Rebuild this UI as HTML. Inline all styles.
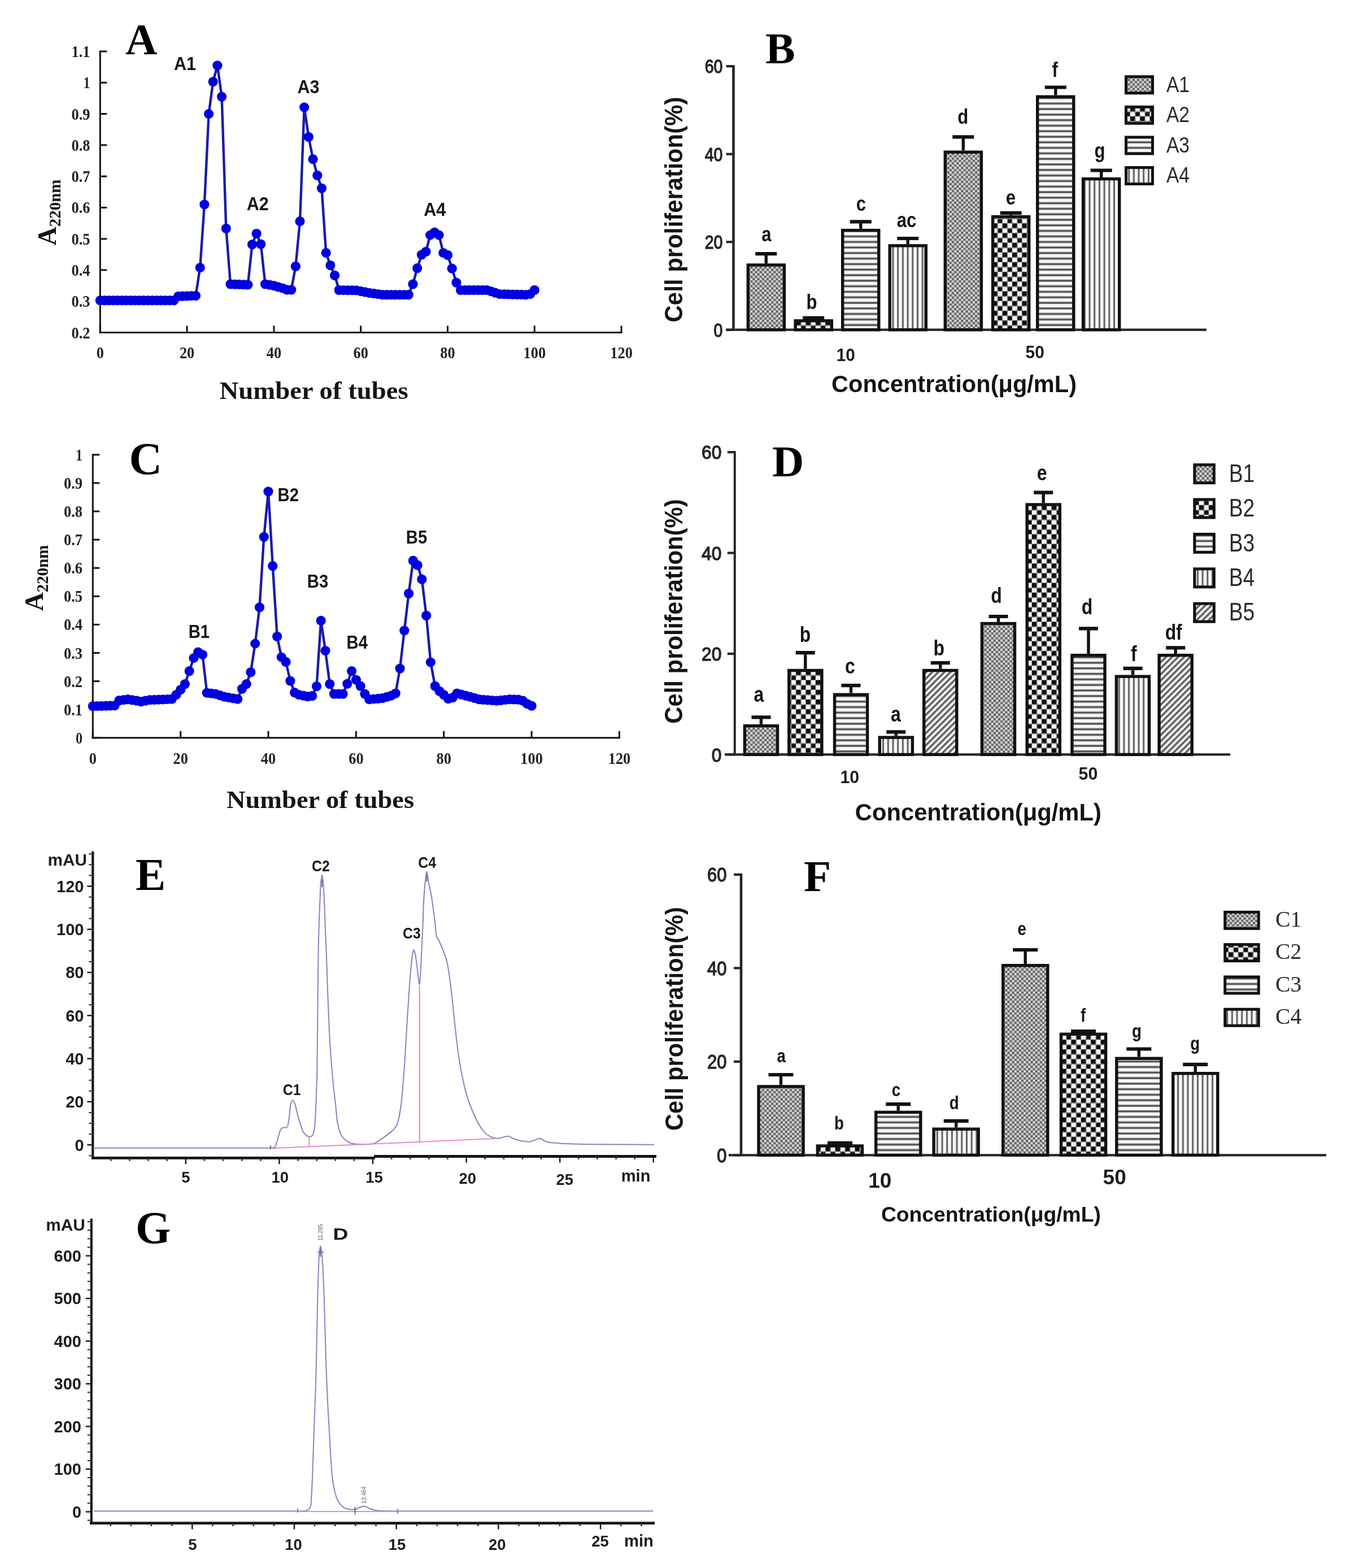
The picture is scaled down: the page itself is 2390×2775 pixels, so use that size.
<!DOCTYPE html>
<html><head><meta charset="utf-8"><title>Figure</title>
<style>html,body{margin:0;padding:0;background:#fff;}svg{display:block;}</style></head>
<body><svg width="2390" height="2775" viewBox="0 0 2390 2775">
<rect width="2390" height="2775" fill="#fff"/>

<defs>
<pattern id="pDot" patternUnits="userSpaceOnUse" width="8.2" height="8.2">
  <rect width="8.2" height="8.2" fill="#8e8e8e"/>
  <rect x="0" y="0" width="4.1" height="4.1" fill="#a8a8a8"/>
  <rect x="4.1" y="4.1" width="4.1" height="4.1" fill="#a8a8a8"/>
  <rect x="0.6" y="0.6" width="2.6" height="2.6" fill="#f2f2f2"/>
  <rect x="4.7" y="4.7" width="2.6" height="2.6" fill="#dcdcdc"/>
  <rect x="4.9" y="0.9" width="2.2" height="2.2" fill="#3c3c3c"/>
  <rect x="0.9" y="4.9" width="2.2" height="2.2" fill="#4a4a4a"/>
</pattern>
<pattern id="pChk" patternUnits="userSpaceOnUse" width="17.4" height="17.2">
  <rect width="17.4" height="17.2" fill="#f6f6f6"/>
  <rect x="0" y="0" width="8.7" height="8.6" fill="#0e0e0e"/>
  <rect x="8.7" y="8.6" width="8.7" height="8.6" fill="#0e0e0e"/>
  <rect x="0" y="7.6" width="17.4" height="1.8" fill="#8c8c8c"/>
  <rect x="0" y="16.2" width="17.4" height="1.8" fill="#8c8c8c"/>
  <rect x="7.9" y="0" width="1.6" height="17.2" fill="#8c8c8c" opacity="0.8"/>
  <rect x="16.6" y="0" width="1.6" height="17.2" fill="#8c8c8c" opacity="0.8"/>
</pattern>
<pattern id="pHor" patternUnits="userSpaceOnUse" width="10" height="9.8">
  <rect width="10" height="9.8" fill="#f8f8f8"/>
  <rect x="0" y="4.6" width="10" height="4.4" fill="#8c8c8c"/>
  <rect x="0" y="5.9" width="10" height="1.8" fill="#444"/>
</pattern>
<pattern id="pVer" patternUnits="userSpaceOnUse" width="8.7" height="10">
  <rect width="8.7" height="10" fill="#f8f8f8"/>
  <rect x="4.6" y="0" width="3.4" height="10" fill="#8e8e8e"/>
  <rect x="5.5" y="0" width="1.5" height="10" fill="#4a4a4a"/>
</pattern>
<pattern id="pDia" patternUnits="userSpaceOnUse" width="7.6" height="7.6" patternTransform="rotate(-45)">
  <rect width="7.6" height="7.6" fill="#f0f0f0"/>
  <rect x="0" y="0" width="7.6" height="3.4" fill="#5e5e5e"/>
</pattern>
</defs>

<line x1="177.3" y1="89.5" x2="177.3" y2="590" stroke="#111" stroke-width="3"/>
<line x1="175.8" y1="588.5" x2="1101.6" y2="588.5" stroke="#111" stroke-width="3"/>
<line x1="177.3" y1="588.5" x2="189.3" y2="588.5" stroke="#111" stroke-width="3"/>
<text x="159.5" y="598.5" font-family="&quot;Liberation Serif&quot;,&quot;Times New Roman&quot;,serif" font-size="30" font-weight="bold" text-anchor="end" fill="#222" textLength="33" lengthAdjust="spacingAndGlyphs">0.2</text>
<line x1="177.3" y1="533.2" x2="189.3" y2="533.2" stroke="#111" stroke-width="3"/>
<text x="159.5" y="543.2" font-family="&quot;Liberation Serif&quot;,&quot;Times New Roman&quot;,serif" font-size="30" font-weight="bold" text-anchor="end" fill="#222" textLength="33" lengthAdjust="spacingAndGlyphs">0.3</text>
<line x1="177.3" y1="477.9" x2="189.3" y2="477.9" stroke="#111" stroke-width="3"/>
<text x="159.5" y="487.9" font-family="&quot;Liberation Serif&quot;,&quot;Times New Roman&quot;,serif" font-size="30" font-weight="bold" text-anchor="end" fill="#222" textLength="33" lengthAdjust="spacingAndGlyphs">0.4</text>
<line x1="177.3" y1="422.7" x2="189.3" y2="422.7" stroke="#111" stroke-width="3"/>
<text x="159.5" y="432.7" font-family="&quot;Liberation Serif&quot;,&quot;Times New Roman&quot;,serif" font-size="30" font-weight="bold" text-anchor="end" fill="#222" textLength="33" lengthAdjust="spacingAndGlyphs">0.5</text>
<line x1="177.3" y1="367.4" x2="189.3" y2="367.4" stroke="#111" stroke-width="3"/>
<text x="159.5" y="377.4" font-family="&quot;Liberation Serif&quot;,&quot;Times New Roman&quot;,serif" font-size="30" font-weight="bold" text-anchor="end" fill="#222" textLength="33" lengthAdjust="spacingAndGlyphs">0.6</text>
<line x1="177.3" y1="312.1" x2="189.3" y2="312.1" stroke="#111" stroke-width="3"/>
<text x="159.5" y="322.1" font-family="&quot;Liberation Serif&quot;,&quot;Times New Roman&quot;,serif" font-size="30" font-weight="bold" text-anchor="end" fill="#222" textLength="33" lengthAdjust="spacingAndGlyphs">0.7</text>
<line x1="177.3" y1="256.8" x2="189.3" y2="256.8" stroke="#111" stroke-width="3"/>
<text x="159.5" y="266.8" font-family="&quot;Liberation Serif&quot;,&quot;Times New Roman&quot;,serif" font-size="30" font-weight="bold" text-anchor="end" fill="#222" textLength="33" lengthAdjust="spacingAndGlyphs">0.8</text>
<line x1="177.3" y1="201.5" x2="189.3" y2="201.5" stroke="#111" stroke-width="3"/>
<text x="159.5" y="211.5" font-family="&quot;Liberation Serif&quot;,&quot;Times New Roman&quot;,serif" font-size="30" font-weight="bold" text-anchor="end" fill="#222" textLength="33" lengthAdjust="spacingAndGlyphs">0.9</text>
<line x1="177.3" y1="146.3" x2="189.3" y2="146.3" stroke="#111" stroke-width="3"/>
<text x="159.5" y="156.3" font-family="&quot;Liberation Serif&quot;,&quot;Times New Roman&quot;,serif" font-size="30" font-weight="bold" text-anchor="end" fill="#222" textLength="12" lengthAdjust="spacingAndGlyphs">1</text>
<line x1="177.3" y1="91" x2="189.3" y2="91" stroke="#111" stroke-width="3"/>
<text x="159.5" y="101" font-family="&quot;Liberation Serif&quot;,&quot;Times New Roman&quot;,serif" font-size="30" font-weight="bold" text-anchor="end" fill="#222" textLength="33" lengthAdjust="spacingAndGlyphs">1.1</text>
<line x1="177.3" y1="588.5" x2="177.3" y2="576.5" stroke="#111" stroke-width="3"/>
<text x="177.3" y="634" font-family="&quot;Liberation Serif&quot;,&quot;Times New Roman&quot;,serif" font-size="30" font-weight="bold" text-anchor="middle" fill="#222" textLength="13.2" lengthAdjust="spacingAndGlyphs">0</text>
<line x1="331.1" y1="588.5" x2="331.1" y2="576.5" stroke="#111" stroke-width="3"/>
<text x="331.1" y="634" font-family="&quot;Liberation Serif&quot;,&quot;Times New Roman&quot;,serif" font-size="30" font-weight="bold" text-anchor="middle" fill="#222" textLength="26.4" lengthAdjust="spacingAndGlyphs">20</text>
<line x1="484.9" y1="588.5" x2="484.9" y2="576.5" stroke="#111" stroke-width="3"/>
<text x="484.9" y="634" font-family="&quot;Liberation Serif&quot;,&quot;Times New Roman&quot;,serif" font-size="30" font-weight="bold" text-anchor="middle" fill="#222" textLength="26.4" lengthAdjust="spacingAndGlyphs">40</text>
<line x1="638.7" y1="588.5" x2="638.7" y2="576.5" stroke="#111" stroke-width="3"/>
<text x="638.7" y="634" font-family="&quot;Liberation Serif&quot;,&quot;Times New Roman&quot;,serif" font-size="30" font-weight="bold" text-anchor="middle" fill="#222" textLength="26.4" lengthAdjust="spacingAndGlyphs">60</text>
<line x1="792.5" y1="588.5" x2="792.5" y2="576.5" stroke="#111" stroke-width="3"/>
<text x="792.5" y="634" font-family="&quot;Liberation Serif&quot;,&quot;Times New Roman&quot;,serif" font-size="30" font-weight="bold" text-anchor="middle" fill="#222" textLength="26.4" lengthAdjust="spacingAndGlyphs">80</text>
<line x1="946.3" y1="588.5" x2="946.3" y2="576.5" stroke="#111" stroke-width="3"/>
<text x="946.3" y="634" font-family="&quot;Liberation Serif&quot;,&quot;Times New Roman&quot;,serif" font-size="30" font-weight="bold" text-anchor="middle" fill="#222" textLength="39.6" lengthAdjust="spacingAndGlyphs">100</text>
<line x1="1100.1" y1="588.5" x2="1100.1" y2="576.5" stroke="#111" stroke-width="3"/>
<text x="1100.1" y="634" font-family="&quot;Liberation Serif&quot;,&quot;Times New Roman&quot;,serif" font-size="30" font-weight="bold" text-anchor="middle" fill="#222" textLength="39.6" lengthAdjust="spacingAndGlyphs">120</text>
<path d="M177.3 531.6 L185 531.6 L192.7 531.6 L200.4 531.6 L208.1 531.6 L215.8 531.6 L223.4 531.6 L231.1 531.6 L238.8 531.6 L246.5 531.6 L254.2 531.6 L261.9 531.6 L269.6 531.6 L277.3 531.6 L285 531.6 L292.7 531.6 L300.3 531.6 L308 531.6 L315.7 524.4 L323.4 524.1 L331.1 523.8 L338.8 523.5 L346.5 523.3 L354.2 473.5 L361.9 361.9 L369.6 201.5 L377.2 144.6 L384.9 115.9 L392.6 171.1 L400.3 404.4 L408 502.8 L415.7 503.1 L423.4 503.4 L431.1 503.6 L438.8 503.9 L446.5 432.6 L454.1 413.3 L461.8 432.1 L469.5 502.8 L477.2 504.2 L484.9 505.6 L492.6 507.8 L500.3 510 L508 512.8 L515.7 512.8 L523.4 471.3 L531 391.7 L538.7 189.9 L546.4 242.4 L554.1 281.7 L561.8 310.4 L569.5 333.1 L577.2 447.5 L584.9 469.6 L592.6 487.3 L600.2 513.3 L607.9 513.5 L615.6 513.6 L623.3 513.7 L631 513.9 L638.7 515.3 L646.4 516.8 L654.1 518.3 L661.8 519.4 L669.5 520.5 L677.2 521.6 L684.8 521.6 L692.5 521.6 L700.2 521.6 L707.9 521.6 L715.6 521.6 L723.3 521.6 L731 502.8 L738.7 474.6 L746.4 450.9 L754 445.3 L761.7 416 L769.4 411.1 L777.1 416 L784.8 447.5 L792.5 451.4 L800.2 475.2 L807.9 500.1 L815.6 513.3 L823.3 513.3 L831 513.3 L838.6 513.3 L846.3 513.3 L854 513.3 L861.7 513.3 L869.4 515.7 L877.1 518.1 L884.8 520.5 L892.5 520.7 L900.2 520.9 L907.9 521.1 L915.5 521.2 L923.2 521.4 L930.9 521.6 L938.6 520.5 L946.3 513.3" stroke="#1c1aa8" stroke-width="4.4" fill="none" stroke-linejoin="round"/>
<g fill="#0000e0">
<circle cx="177.3" cy="531.6" r="8.6"/>
<circle cx="185" cy="531.6" r="8.6"/>
<circle cx="192.7" cy="531.6" r="8.6"/>
<circle cx="200.4" cy="531.6" r="8.6"/>
<circle cx="208.1" cy="531.6" r="8.6"/>
<circle cx="215.8" cy="531.6" r="8.6"/>
<circle cx="223.4" cy="531.6" r="8.6"/>
<circle cx="231.1" cy="531.6" r="8.6"/>
<circle cx="238.8" cy="531.6" r="8.6"/>
<circle cx="246.5" cy="531.6" r="8.6"/>
<circle cx="254.2" cy="531.6" r="8.6"/>
<circle cx="261.9" cy="531.6" r="8.6"/>
<circle cx="269.6" cy="531.6" r="8.6"/>
<circle cx="277.3" cy="531.6" r="8.6"/>
<circle cx="285" cy="531.6" r="8.6"/>
<circle cx="292.7" cy="531.6" r="8.6"/>
<circle cx="300.3" cy="531.6" r="8.6"/>
<circle cx="308" cy="531.6" r="8.6"/>
<circle cx="315.7" cy="524.4" r="8.6"/>
<circle cx="323.4" cy="524.1" r="8.6"/>
<circle cx="331.1" cy="523.8" r="8.6"/>
<circle cx="338.8" cy="523.5" r="8.6"/>
<circle cx="346.5" cy="523.3" r="8.6"/>
<circle cx="354.2" cy="473.5" r="8.6"/>
<circle cx="361.9" cy="361.9" r="8.6"/>
<circle cx="369.6" cy="201.5" r="8.6"/>
<circle cx="377.2" cy="144.6" r="8.6"/>
<circle cx="384.9" cy="115.9" r="8.6"/>
<circle cx="392.6" cy="171.1" r="8.6"/>
<circle cx="400.3" cy="404.4" r="8.6"/>
<circle cx="408" cy="502.8" r="8.6"/>
<circle cx="415.7" cy="503.1" r="8.6"/>
<circle cx="423.4" cy="503.4" r="8.6"/>
<circle cx="431.1" cy="503.6" r="8.6"/>
<circle cx="438.8" cy="503.9" r="8.6"/>
<circle cx="446.5" cy="432.6" r="8.6"/>
<circle cx="454.1" cy="413.3" r="8.6"/>
<circle cx="461.8" cy="432.1" r="8.6"/>
<circle cx="469.5" cy="502.8" r="8.6"/>
<circle cx="477.2" cy="504.2" r="8.6"/>
<circle cx="484.9" cy="505.6" r="8.6"/>
<circle cx="492.6" cy="507.8" r="8.6"/>
<circle cx="500.3" cy="510" r="8.6"/>
<circle cx="508" cy="512.8" r="8.6"/>
<circle cx="515.7" cy="512.8" r="8.6"/>
<circle cx="523.4" cy="471.3" r="8.6"/>
<circle cx="531" cy="391.7" r="8.6"/>
<circle cx="538.7" cy="189.9" r="8.6"/>
<circle cx="546.4" cy="242.4" r="8.6"/>
<circle cx="554.1" cy="281.7" r="8.6"/>
<circle cx="561.8" cy="310.4" r="8.6"/>
<circle cx="569.5" cy="333.1" r="8.6"/>
<circle cx="577.2" cy="447.5" r="8.6"/>
<circle cx="584.9" cy="469.6" r="8.6"/>
<circle cx="592.6" cy="487.3" r="8.6"/>
<circle cx="600.2" cy="513.3" r="8.6"/>
<circle cx="607.9" cy="513.5" r="8.6"/>
<circle cx="615.6" cy="513.6" r="8.6"/>
<circle cx="623.3" cy="513.7" r="8.6"/>
<circle cx="631" cy="513.9" r="8.6"/>
<circle cx="638.7" cy="515.3" r="8.6"/>
<circle cx="646.4" cy="516.8" r="8.6"/>
<circle cx="654.1" cy="518.3" r="8.6"/>
<circle cx="661.8" cy="519.4" r="8.6"/>
<circle cx="669.5" cy="520.5" r="8.6"/>
<circle cx="677.2" cy="521.6" r="8.6"/>
<circle cx="684.8" cy="521.6" r="8.6"/>
<circle cx="692.5" cy="521.6" r="8.6"/>
<circle cx="700.2" cy="521.6" r="8.6"/>
<circle cx="707.9" cy="521.6" r="8.6"/>
<circle cx="715.6" cy="521.6" r="8.6"/>
<circle cx="723.3" cy="521.6" r="8.6"/>
<circle cx="731" cy="502.8" r="8.6"/>
<circle cx="738.7" cy="474.6" r="8.6"/>
<circle cx="746.4" cy="450.9" r="8.6"/>
<circle cx="754" cy="445.3" r="8.6"/>
<circle cx="761.7" cy="416" r="8.6"/>
<circle cx="769.4" cy="411.1" r="8.6"/>
<circle cx="777.1" cy="416" r="8.6"/>
<circle cx="784.8" cy="447.5" r="8.6"/>
<circle cx="792.5" cy="451.4" r="8.6"/>
<circle cx="800.2" cy="475.2" r="8.6"/>
<circle cx="807.9" cy="500.1" r="8.6"/>
<circle cx="815.6" cy="513.3" r="8.6"/>
<circle cx="823.3" cy="513.3" r="8.6"/>
<circle cx="831" cy="513.3" r="8.6"/>
<circle cx="838.6" cy="513.3" r="8.6"/>
<circle cx="846.3" cy="513.3" r="8.6"/>
<circle cx="854" cy="513.3" r="8.6"/>
<circle cx="861.7" cy="513.3" r="8.6"/>
<circle cx="869.4" cy="515.7" r="8.6"/>
<circle cx="877.1" cy="518.1" r="8.6"/>
<circle cx="884.8" cy="520.5" r="8.6"/>
<circle cx="892.5" cy="520.7" r="8.6"/>
<circle cx="900.2" cy="520.9" r="8.6"/>
<circle cx="907.9" cy="521.1" r="8.6"/>
<circle cx="915.5" cy="521.2" r="8.6"/>
<circle cx="923.2" cy="521.4" r="8.6"/>
<circle cx="930.9" cy="521.6" r="8.6"/>
<circle cx="938.6" cy="520.5" r="8.6"/>
<circle cx="946.3" cy="513.3" r="8.6"/>
</g>
<text x="222" y="96" font-family="&quot;Liberation Serif&quot;,&quot;Times New Roman&quot;,serif" font-size="78" font-weight="bold" text-anchor="start" fill="#000">A</text>
<text x="327.5" y="123.7" font-family="&quot;Liberation Sans&quot;,Arial,sans-serif" font-size="34" font-weight="bold" text-anchor="middle" fill="#151515" textLength="39.1" lengthAdjust="spacingAndGlyphs">A1</text>
<text x="456.3" y="372.4" font-family="&quot;Liberation Sans&quot;,Arial,sans-serif" font-size="34" font-weight="bold" text-anchor="middle" fill="#151515" textLength="39.1" lengthAdjust="spacingAndGlyphs">A2</text>
<text x="546" y="165.2" font-family="&quot;Liberation Sans&quot;,Arial,sans-serif" font-size="34" font-weight="bold" text-anchor="middle" fill="#151515" textLength="39.1" lengthAdjust="spacingAndGlyphs">A3</text>
<text x="769.7" y="382" font-family="&quot;Liberation Sans&quot;,Arial,sans-serif" font-size="34" font-weight="bold" text-anchor="middle" fill="#151515" textLength="39.1" lengthAdjust="spacingAndGlyphs">A4</text>
<text x="555.6" y="706" font-family="&quot;Liberation Serif&quot;,&quot;Times New Roman&quot;,serif" font-size="45" font-weight="bold" text-anchor="middle" fill="#151515" textLength="334" lengthAdjust="spacingAndGlyphs">Number of tubes</text>
<text x="0" y="0" transform="translate(98.7 434.5) rotate(-90)" font-family="&quot;Liberation Serif&quot;,&quot;Times New Roman&quot;,serif" font-weight="bold" fill="#151515"><tspan font-size="46">A</tspan><tspan font-size="29" dy="8.5">220nm</tspan></text>
<line x1="164.3" y1="803.3" x2="164.3" y2="1307.3" stroke="#111" stroke-width="3"/>
<line x1="162.8" y1="1305.8" x2="1098" y2="1305.8" stroke="#111" stroke-width="3"/>
<line x1="164.3" y1="1305.8" x2="176.3" y2="1305.8" stroke="#111" stroke-width="3"/>
<text x="146" y="1315.8" font-family="&quot;Liberation Serif&quot;,&quot;Times New Roman&quot;,serif" font-size="30" font-weight="bold" text-anchor="end" fill="#222" textLength="12" lengthAdjust="spacingAndGlyphs">0</text>
<line x1="164.3" y1="1255.7" x2="176.3" y2="1255.7" stroke="#111" stroke-width="3"/>
<text x="146" y="1265.7" font-family="&quot;Liberation Serif&quot;,&quot;Times New Roman&quot;,serif" font-size="30" font-weight="bold" text-anchor="end" fill="#222" textLength="33" lengthAdjust="spacingAndGlyphs">0.1</text>
<line x1="164.3" y1="1205.6" x2="176.3" y2="1205.6" stroke="#111" stroke-width="3"/>
<text x="146" y="1215.6" font-family="&quot;Liberation Serif&quot;,&quot;Times New Roman&quot;,serif" font-size="30" font-weight="bold" text-anchor="end" fill="#222" textLength="33" lengthAdjust="spacingAndGlyphs">0.2</text>
<line x1="164.3" y1="1155.5" x2="176.3" y2="1155.5" stroke="#111" stroke-width="3"/>
<text x="146" y="1165.5" font-family="&quot;Liberation Serif&quot;,&quot;Times New Roman&quot;,serif" font-size="30" font-weight="bold" text-anchor="end" fill="#222" textLength="33" lengthAdjust="spacingAndGlyphs">0.3</text>
<line x1="164.3" y1="1105.4" x2="176.3" y2="1105.4" stroke="#111" stroke-width="3"/>
<text x="146" y="1115.4" font-family="&quot;Liberation Serif&quot;,&quot;Times New Roman&quot;,serif" font-size="30" font-weight="bold" text-anchor="end" fill="#222" textLength="33" lengthAdjust="spacingAndGlyphs">0.4</text>
<line x1="164.3" y1="1055.3" x2="176.3" y2="1055.3" stroke="#111" stroke-width="3"/>
<text x="146" y="1065.3" font-family="&quot;Liberation Serif&quot;,&quot;Times New Roman&quot;,serif" font-size="30" font-weight="bold" text-anchor="end" fill="#222" textLength="33" lengthAdjust="spacingAndGlyphs">0.5</text>
<line x1="164.3" y1="1005.2" x2="176.3" y2="1005.2" stroke="#111" stroke-width="3"/>
<text x="146" y="1015.2" font-family="&quot;Liberation Serif&quot;,&quot;Times New Roman&quot;,serif" font-size="30" font-weight="bold" text-anchor="end" fill="#222" textLength="33" lengthAdjust="spacingAndGlyphs">0.6</text>
<line x1="164.3" y1="955.1" x2="176.3" y2="955.1" stroke="#111" stroke-width="3"/>
<text x="146" y="965.1" font-family="&quot;Liberation Serif&quot;,&quot;Times New Roman&quot;,serif" font-size="30" font-weight="bold" text-anchor="end" fill="#222" textLength="33" lengthAdjust="spacingAndGlyphs">0.7</text>
<line x1="164.3" y1="905" x2="176.3" y2="905" stroke="#111" stroke-width="3"/>
<text x="146" y="915" font-family="&quot;Liberation Serif&quot;,&quot;Times New Roman&quot;,serif" font-size="30" font-weight="bold" text-anchor="end" fill="#222" textLength="33" lengthAdjust="spacingAndGlyphs">0.8</text>
<line x1="164.3" y1="854.9" x2="176.3" y2="854.9" stroke="#111" stroke-width="3"/>
<text x="146" y="864.9" font-family="&quot;Liberation Serif&quot;,&quot;Times New Roman&quot;,serif" font-size="30" font-weight="bold" text-anchor="end" fill="#222" textLength="33" lengthAdjust="spacingAndGlyphs">0.9</text>
<line x1="164.3" y1="804.8" x2="176.3" y2="804.8" stroke="#111" stroke-width="3"/>
<text x="146" y="814.8" font-family="&quot;Liberation Serif&quot;,&quot;Times New Roman&quot;,serif" font-size="30" font-weight="bold" text-anchor="end" fill="#222" textLength="12" lengthAdjust="spacingAndGlyphs">1</text>
<line x1="164.3" y1="1305.8" x2="164.3" y2="1293.8" stroke="#111" stroke-width="3"/>
<text x="164.3" y="1352" font-family="&quot;Liberation Serif&quot;,&quot;Times New Roman&quot;,serif" font-size="30" font-weight="bold" text-anchor="middle" fill="#222" textLength="13.2" lengthAdjust="spacingAndGlyphs">0</text>
<line x1="319.7" y1="1305.8" x2="319.7" y2="1293.8" stroke="#111" stroke-width="3"/>
<text x="319.7" y="1352" font-family="&quot;Liberation Serif&quot;,&quot;Times New Roman&quot;,serif" font-size="30" font-weight="bold" text-anchor="middle" fill="#222" textLength="26.4" lengthAdjust="spacingAndGlyphs">20</text>
<line x1="475" y1="1305.8" x2="475" y2="1293.8" stroke="#111" stroke-width="3"/>
<text x="475" y="1352" font-family="&quot;Liberation Serif&quot;,&quot;Times New Roman&quot;,serif" font-size="30" font-weight="bold" text-anchor="middle" fill="#222" textLength="26.4" lengthAdjust="spacingAndGlyphs">40</text>
<line x1="630.4" y1="1305.8" x2="630.4" y2="1293.8" stroke="#111" stroke-width="3"/>
<text x="630.4" y="1352" font-family="&quot;Liberation Serif&quot;,&quot;Times New Roman&quot;,serif" font-size="30" font-weight="bold" text-anchor="middle" fill="#222" textLength="26.4" lengthAdjust="spacingAndGlyphs">60</text>
<line x1="785.7" y1="1305.8" x2="785.7" y2="1293.8" stroke="#111" stroke-width="3"/>
<text x="785.7" y="1352" font-family="&quot;Liberation Serif&quot;,&quot;Times New Roman&quot;,serif" font-size="30" font-weight="bold" text-anchor="middle" fill="#222" textLength="26.4" lengthAdjust="spacingAndGlyphs">80</text>
<line x1="941.1" y1="1305.8" x2="941.1" y2="1293.8" stroke="#111" stroke-width="3"/>
<text x="941.1" y="1352" font-family="&quot;Liberation Serif&quot;,&quot;Times New Roman&quot;,serif" font-size="30" font-weight="bold" text-anchor="middle" fill="#222" textLength="39.6" lengthAdjust="spacingAndGlyphs">100</text>
<line x1="1096.5" y1="1305.8" x2="1096.5" y2="1293.8" stroke="#111" stroke-width="3"/>
<text x="1096.5" y="1352" font-family="&quot;Liberation Serif&quot;,&quot;Times New Roman&quot;,serif" font-size="30" font-weight="bold" text-anchor="middle" fill="#222" textLength="39.6" lengthAdjust="spacingAndGlyphs">120</text>
<path d="M164.3 1249.7 L172.1 1249.5 L179.8 1249.3 L187.6 1249.1 L195.4 1248.9 L203.1 1248.7 L210.9 1239.7 L218.7 1238.7 L226.4 1237.7 L234.2 1238.9 L242 1240.2 L249.7 1241.7 L257.5 1240.2 L265.3 1238.7 L273.1 1238.4 L280.8 1238.1 L288.6 1237.8 L296.4 1237.5 L304.1 1237.2 L311.9 1229.6 L319.7 1220.6 L327.4 1210.6 L335.2 1187.6 L343 1164.5 L350.7 1154 L358.5 1158.5 L366.3 1226.1 L374 1227.1 L381.8 1228.1 L389.6 1230.6 L397.3 1233.2 L405.1 1234.5 L412.9 1235.8 L420.6 1237.2 L428.4 1219.1 L436.2 1210.6 L443.9 1189.6 L451.7 1139 L459.5 1074.8 L467.3 950.1 L475 869.9 L482.8 1001.7 L490.6 1126.4 L498.3 1163 L506.1 1171.5 L513.9 1205.1 L521.6 1225.6 L529.4 1229.6 L537.2 1231.2 L544.9 1232.7 L552.7 1231.7 L560.5 1214.6 L568.2 1098.4 L576 1151.5 L583.8 1210.6 L591.5 1228.1 L599.3 1228.1 L607.1 1228.1 L614.8 1210.1 L622.6 1187.6 L630.4 1203.1 L638.1 1214.1 L645.9 1228.1 L653.7 1237.7 L661.5 1237 L669.2 1236.3 L677 1235.7 L684.8 1233.4 L692.5 1231.2 L700.3 1227.1 L708.1 1183.1 L715.8 1115.9 L723.6 1050.3 L731.4 992.2 L739.1 1000.2 L746.9 1025.2 L754.7 1089.4 L762.4 1172 L770.2 1214.1 L778 1223.1 L785.7 1229.6 L793.5 1236.7 L801.3 1234.7 L809 1227.1 L816.8 1229.1 L824.6 1231.2 L832.3 1233.2 L840.1 1235.4 L847.9 1237.7 L855.7 1238.3 L863.4 1238.9 L871.2 1239.5 L879 1240.2 L886.7 1239.3 L894.5 1238.5 L902.3 1237.7 L910 1237.9 L917.8 1238.2 L925.6 1240.2 L933.3 1245.7 L941.1 1249.2" stroke="#1c1aa8" stroke-width="4.4" fill="none" stroke-linejoin="round"/>
<g fill="#0000e0">
<circle cx="164.3" cy="1249.7" r="8.6"/>
<circle cx="172.1" cy="1249.5" r="8.6"/>
<circle cx="179.8" cy="1249.3" r="8.6"/>
<circle cx="187.6" cy="1249.1" r="8.6"/>
<circle cx="195.4" cy="1248.9" r="8.6"/>
<circle cx="203.1" cy="1248.7" r="8.6"/>
<circle cx="210.9" cy="1239.7" r="8.6"/>
<circle cx="218.7" cy="1238.7" r="8.6"/>
<circle cx="226.4" cy="1237.7" r="8.6"/>
<circle cx="234.2" cy="1238.9" r="8.6"/>
<circle cx="242" cy="1240.2" r="8.6"/>
<circle cx="249.7" cy="1241.7" r="8.6"/>
<circle cx="257.5" cy="1240.2" r="8.6"/>
<circle cx="265.3" cy="1238.7" r="8.6"/>
<circle cx="273.1" cy="1238.4" r="8.6"/>
<circle cx="280.8" cy="1238.1" r="8.6"/>
<circle cx="288.6" cy="1237.8" r="8.6"/>
<circle cx="296.4" cy="1237.5" r="8.6"/>
<circle cx="304.1" cy="1237.2" r="8.6"/>
<circle cx="311.9" cy="1229.6" r="8.6"/>
<circle cx="319.7" cy="1220.6" r="8.6"/>
<circle cx="327.4" cy="1210.6" r="8.6"/>
<circle cx="335.2" cy="1187.6" r="8.6"/>
<circle cx="343" cy="1164.5" r="8.6"/>
<circle cx="350.7" cy="1154" r="8.6"/>
<circle cx="358.5" cy="1158.5" r="8.6"/>
<circle cx="366.3" cy="1226.1" r="8.6"/>
<circle cx="374" cy="1227.1" r="8.6"/>
<circle cx="381.8" cy="1228.1" r="8.6"/>
<circle cx="389.6" cy="1230.6" r="8.6"/>
<circle cx="397.3" cy="1233.2" r="8.6"/>
<circle cx="405.1" cy="1234.5" r="8.6"/>
<circle cx="412.9" cy="1235.8" r="8.6"/>
<circle cx="420.6" cy="1237.2" r="8.6"/>
<circle cx="428.4" cy="1219.1" r="8.6"/>
<circle cx="436.2" cy="1210.6" r="8.6"/>
<circle cx="443.9" cy="1189.6" r="8.6"/>
<circle cx="451.7" cy="1139" r="8.6"/>
<circle cx="459.5" cy="1074.8" r="8.6"/>
<circle cx="467.3" cy="950.1" r="8.6"/>
<circle cx="475" cy="869.9" r="8.6"/>
<circle cx="482.8" cy="1001.7" r="8.6"/>
<circle cx="490.6" cy="1126.4" r="8.6"/>
<circle cx="498.3" cy="1163" r="8.6"/>
<circle cx="506.1" cy="1171.5" r="8.6"/>
<circle cx="513.9" cy="1205.1" r="8.6"/>
<circle cx="521.6" cy="1225.6" r="8.6"/>
<circle cx="529.4" cy="1229.6" r="8.6"/>
<circle cx="537.2" cy="1231.2" r="8.6"/>
<circle cx="544.9" cy="1232.7" r="8.6"/>
<circle cx="552.7" cy="1231.7" r="8.6"/>
<circle cx="560.5" cy="1214.6" r="8.6"/>
<circle cx="568.2" cy="1098.4" r="8.6"/>
<circle cx="576" cy="1151.5" r="8.6"/>
<circle cx="583.8" cy="1210.6" r="8.6"/>
<circle cx="591.5" cy="1228.1" r="8.6"/>
<circle cx="599.3" cy="1228.1" r="8.6"/>
<circle cx="607.1" cy="1228.1" r="8.6"/>
<circle cx="614.8" cy="1210.1" r="8.6"/>
<circle cx="622.6" cy="1187.6" r="8.6"/>
<circle cx="630.4" cy="1203.1" r="8.6"/>
<circle cx="638.1" cy="1214.1" r="8.6"/>
<circle cx="645.9" cy="1228.1" r="8.6"/>
<circle cx="653.7" cy="1237.7" r="8.6"/>
<circle cx="661.5" cy="1237" r="8.6"/>
<circle cx="669.2" cy="1236.3" r="8.6"/>
<circle cx="677" cy="1235.7" r="8.6"/>
<circle cx="684.8" cy="1233.4" r="8.6"/>
<circle cx="692.5" cy="1231.2" r="8.6"/>
<circle cx="700.3" cy="1227.1" r="8.6"/>
<circle cx="708.1" cy="1183.1" r="8.6"/>
<circle cx="715.8" cy="1115.9" r="8.6"/>
<circle cx="723.6" cy="1050.3" r="8.6"/>
<circle cx="731.4" cy="992.2" r="8.6"/>
<circle cx="739.1" cy="1000.2" r="8.6"/>
<circle cx="746.9" cy="1025.2" r="8.6"/>
<circle cx="754.7" cy="1089.4" r="8.6"/>
<circle cx="762.4" cy="1172" r="8.6"/>
<circle cx="770.2" cy="1214.1" r="8.6"/>
<circle cx="778" cy="1223.1" r="8.6"/>
<circle cx="785.7" cy="1229.6" r="8.6"/>
<circle cx="793.5" cy="1236.7" r="8.6"/>
<circle cx="801.3" cy="1234.7" r="8.6"/>
<circle cx="809" cy="1227.1" r="8.6"/>
<circle cx="816.8" cy="1229.1" r="8.6"/>
<circle cx="824.6" cy="1231.2" r="8.6"/>
<circle cx="832.3" cy="1233.2" r="8.6"/>
<circle cx="840.1" cy="1235.4" r="8.6"/>
<circle cx="847.9" cy="1237.7" r="8.6"/>
<circle cx="855.7" cy="1238.3" r="8.6"/>
<circle cx="863.4" cy="1238.9" r="8.6"/>
<circle cx="871.2" cy="1239.5" r="8.6"/>
<circle cx="879" cy="1240.2" r="8.6"/>
<circle cx="886.7" cy="1239.3" r="8.6"/>
<circle cx="894.5" cy="1238.5" r="8.6"/>
<circle cx="902.3" cy="1237.7" r="8.6"/>
<circle cx="910" cy="1237.9" r="8.6"/>
<circle cx="917.8" cy="1238.2" r="8.6"/>
<circle cx="925.6" cy="1240.2" r="8.6"/>
<circle cx="933.3" cy="1245.7" r="8.6"/>
<circle cx="941.1" cy="1249.2" r="8.6"/>
</g>
<text x="228.5" y="838.5" font-family="&quot;Liberation Serif&quot;,&quot;Times New Roman&quot;,serif" font-size="81" font-weight="bold" text-anchor="start" fill="#000">C</text>
<text x="352.4" y="1129.3" font-family="&quot;Liberation Sans&quot;,Arial,sans-serif" font-size="34" font-weight="bold" text-anchor="middle" fill="#151515" textLength="37.4" lengthAdjust="spacingAndGlyphs">B1</text>
<text x="510.3" y="886.6" font-family="&quot;Liberation Sans&quot;,Arial,sans-serif" font-size="34" font-weight="bold" text-anchor="middle" fill="#151515" textLength="37.4" lengthAdjust="spacingAndGlyphs">B2</text>
<text x="562.5" y="1039.7" font-family="&quot;Liberation Sans&quot;,Arial,sans-serif" font-size="34" font-weight="bold" text-anchor="middle" fill="#151515" textLength="37.4" lengthAdjust="spacingAndGlyphs">B3</text>
<text x="632.2" y="1148.3" font-family="&quot;Liberation Sans&quot;,Arial,sans-serif" font-size="34" font-weight="bold" text-anchor="middle" fill="#151515" textLength="37.4" lengthAdjust="spacingAndGlyphs">B4</text>
<text x="737.5" y="961.5" font-family="&quot;Liberation Sans&quot;,Arial,sans-serif" font-size="34" font-weight="bold" text-anchor="middle" fill="#151515" textLength="37.4" lengthAdjust="spacingAndGlyphs">B5</text>
<text x="567" y="1429.5" font-family="&quot;Liberation Serif&quot;,&quot;Times New Roman&quot;,serif" font-size="45" font-weight="bold" text-anchor="middle" fill="#151515" textLength="332" lengthAdjust="spacingAndGlyphs">Number of tubes</text>
<text x="0" y="0" transform="translate(76 1081.5) rotate(-90)" font-family="&quot;Liberation Serif&quot;,&quot;Times New Roman&quot;,serif" font-weight="bold" fill="#151515"><tspan font-size="46">A</tspan><tspan font-size="29" dy="8.5">220nm</tspan></text>
<line x1="1298.5" y1="115.2" x2="1298.5" y2="583.7" stroke="#262626" stroke-width="4.6"/>
<line x1="1285.5" y1="583.7" x2="1298.5" y2="583.7" stroke="#262626" stroke-width="4.2"/>
<text x="1279.5" y="595.9" font-family="&quot;Liberation Sans&quot;,Arial,sans-serif" font-size="34" font-weight="normal" text-anchor="end" fill="#262626" textLength="15.9" lengthAdjust="spacingAndGlyphs" stroke="#262626" stroke-width="1.3">0</text>
<line x1="1285.5" y1="428.2" x2="1298.5" y2="428.2" stroke="#262626" stroke-width="4.2"/>
<text x="1279.5" y="440.4" font-family="&quot;Liberation Sans&quot;,Arial,sans-serif" font-size="34" font-weight="normal" text-anchor="end" fill="#262626" textLength="31.8" lengthAdjust="spacingAndGlyphs" stroke="#262626" stroke-width="1.3">20</text>
<line x1="1285.5" y1="272.7" x2="1298.5" y2="272.7" stroke="#262626" stroke-width="4.2"/>
<text x="1279.5" y="284.9" font-family="&quot;Liberation Sans&quot;,Arial,sans-serif" font-size="34" font-weight="normal" text-anchor="end" fill="#262626" textLength="31.8" lengthAdjust="spacingAndGlyphs" stroke="#262626" stroke-width="1.3">40</text>
<line x1="1285.5" y1="117.2" x2="1298.5" y2="117.2" stroke="#262626" stroke-width="4.2"/>
<text x="1279.5" y="129.4" font-family="&quot;Liberation Sans&quot;,Arial,sans-serif" font-size="34" font-weight="normal" text-anchor="end" fill="#262626" textLength="31.8" lengthAdjust="spacingAndGlyphs" stroke="#262626" stroke-width="1.3">60</text>
<line x1="1285" y1="583.7" x2="2136" y2="583.7" stroke="#262626" stroke-width="4.2"/>
<line x1="1356.3" y1="466.3" x2="1356.3" y2="449.2" stroke="#111" stroke-width="5.4"/>
<line x1="1337.3" y1="449.2" x2="1375.3" y2="449.2" stroke="#111" stroke-width="6.2"/>
<rect x="1324.3" y="469" width="64.1" height="114.7" fill="url(#pDot)" stroke="#111" stroke-width="5.4"/>
<text x="1357" y="427" font-family="&quot;Liberation Sans&quot;,Arial,sans-serif" font-size="37" font-weight="bold" text-anchor="middle" fill="#151515" textLength="17.3" lengthAdjust="spacingAndGlyphs">a</text>
<line x1="1440.2" y1="565" x2="1440.2" y2="562.7" stroke="#111" stroke-width="5.4"/>
<line x1="1421.2" y1="562.7" x2="1459.2" y2="562.7" stroke="#111" stroke-width="6.2"/>
<rect x="1408.2" y="567.7" width="64.1" height="16" fill="url(#pChk)" stroke="#111" stroke-width="5.4"/>
<text x="1437" y="547" font-family="&quot;Liberation Sans&quot;,Arial,sans-serif" font-size="37" font-weight="bold" text-anchor="middle" fill="#151515" textLength="19" lengthAdjust="spacingAndGlyphs">b</text>
<line x1="1523.8" y1="404.9" x2="1523.8" y2="392.4" stroke="#111" stroke-width="5.4"/>
<line x1="1504.8" y1="392.4" x2="1542.8" y2="392.4" stroke="#111" stroke-width="6.2"/>
<rect x="1491.7" y="407.6" width="64.1" height="176.1" fill="url(#pHor)" stroke="#111" stroke-width="5.4"/>
<text x="1524.3" y="373.3" font-family="&quot;Liberation Sans&quot;,Arial,sans-serif" font-size="37" font-weight="bold" text-anchor="middle" fill="#151515" textLength="17.3" lengthAdjust="spacingAndGlyphs">c</text>
<line x1="1607.2" y1="432.1" x2="1607.2" y2="422" stroke="#111" stroke-width="5.4"/>
<line x1="1588.2" y1="422" x2="1626.2" y2="422" stroke="#111" stroke-width="6.2"/>
<rect x="1575.2" y="434.8" width="64.1" height="148.9" fill="url(#pVer)" stroke="#111" stroke-width="5.4"/>
<text x="1605" y="402.4" font-family="&quot;Liberation Sans&quot;,Arial,sans-serif" font-size="37" font-weight="bold" text-anchor="middle" fill="#151515" textLength="34.6" lengthAdjust="spacingAndGlyphs">ac</text>
<line x1="1705.3" y1="266.5" x2="1705.3" y2="242.4" stroke="#111" stroke-width="5.4"/>
<line x1="1686.3" y1="242.4" x2="1724.3" y2="242.4" stroke="#111" stroke-width="6.2"/>
<rect x="1673.3" y="269.2" width="64.1" height="314.5" fill="url(#pDot)" stroke="#111" stroke-width="5.4"/>
<text x="1704.7" y="219.2" font-family="&quot;Liberation Sans&quot;,Arial,sans-serif" font-size="37" font-weight="bold" text-anchor="middle" fill="#151515" textLength="19" lengthAdjust="spacingAndGlyphs">d</text>
<line x1="1789.7" y1="380.8" x2="1789.7" y2="376.9" stroke="#111" stroke-width="5.4"/>
<line x1="1770.7" y1="376.9" x2="1808.7" y2="376.9" stroke="#111" stroke-width="6.2"/>
<rect x="1757.6" y="383.5" width="64.1" height="200.2" fill="url(#pChk)" stroke="#111" stroke-width="5.4"/>
<text x="1789.4" y="361.6" font-family="&quot;Liberation Sans&quot;,Arial,sans-serif" font-size="37" font-weight="bold" text-anchor="middle" fill="#151515" textLength="17.3" lengthAdjust="spacingAndGlyphs">e</text>
<line x1="1868.8" y1="168.5" x2="1868.8" y2="154.5" stroke="#111" stroke-width="5.4"/>
<line x1="1849.8" y1="154.5" x2="1887.8" y2="154.5" stroke="#111" stroke-width="6.2"/>
<rect x="1836.7" y="171.2" width="64.1" height="412.5" fill="url(#pHor)" stroke="#111" stroke-width="5.4"/>
<text x="1867.8" y="135.7" font-family="&quot;Liberation Sans&quot;,Arial,sans-serif" font-size="37" font-weight="bold" text-anchor="middle" fill="#151515" textLength="10.4" lengthAdjust="spacingAndGlyphs">f</text>
<line x1="1949.7" y1="313.9" x2="1949.7" y2="301.5" stroke="#111" stroke-width="5.4"/>
<line x1="1930.7" y1="301.5" x2="1968.7" y2="301.5" stroke="#111" stroke-width="6.2"/>
<rect x="1917.6" y="316.6" width="64.1" height="267.1" fill="url(#pVer)" stroke="#111" stroke-width="5.4"/>
<text x="1947" y="278.5" font-family="&quot;Liberation Sans&quot;,Arial,sans-serif" font-size="37" font-weight="bold" text-anchor="middle" fill="#151515" textLength="19" lengthAdjust="spacingAndGlyphs">g</text>
<rect x="1993.5" y="135.7" width="47" height="29" fill="url(#pDot)" stroke="#111" stroke-width="5"/>
<text x="2065" y="162.6" font-family="&quot;Liberation Sans&quot;,Arial,sans-serif" font-size="38" font-weight="normal" text-anchor="start" fill="#2a2a2a" textLength="41" lengthAdjust="spacingAndGlyphs">A1</text>
<rect x="1993.5" y="189.3" width="47" height="29" fill="url(#pChk)" stroke="#111" stroke-width="5"/>
<text x="2065" y="216.2" font-family="&quot;Liberation Sans&quot;,Arial,sans-serif" font-size="38" font-weight="normal" text-anchor="start" fill="#2a2a2a" textLength="41" lengthAdjust="spacingAndGlyphs">A2</text>
<rect x="1993.5" y="242.9" width="47" height="29" fill="url(#pHor)" stroke="#111" stroke-width="5"/>
<text x="2065" y="269.8" font-family="&quot;Liberation Sans&quot;,Arial,sans-serif" font-size="38" font-weight="normal" text-anchor="start" fill="#2a2a2a" textLength="41" lengthAdjust="spacingAndGlyphs">A3</text>
<rect x="1993.5" y="296.5" width="47" height="29" fill="url(#pVer)" stroke="#111" stroke-width="5"/>
<text x="2065" y="323.4" font-family="&quot;Liberation Sans&quot;,Arial,sans-serif" font-size="38" font-weight="normal" text-anchor="start" fill="#2a2a2a" textLength="41" lengthAdjust="spacingAndGlyphs">A4</text>
<text x="1497.3" y="638.7" font-family="&quot;Liberation Sans&quot;,Arial,sans-serif" font-size="30.5" font-weight="bold" text-anchor="middle" fill="#1e1e1e" textLength="33.2" lengthAdjust="spacingAndGlyphs">10</text>
<text x="1832.2" y="633.6" font-family="&quot;Liberation Sans&quot;,Arial,sans-serif" font-size="30.5" font-weight="bold" text-anchor="middle" fill="#1e1e1e" textLength="33.2" lengthAdjust="spacingAndGlyphs">50</text>
<text x="1689" y="693.8" font-family="&quot;Liberation Sans&quot;,Arial,sans-serif" font-size="42" font-weight="bold" text-anchor="middle" fill="#141414" textLength="434" lengthAdjust="spacingAndGlyphs">Concentration(μg/mL)</text>
<text x="1207.5" y="371" font-family="&quot;Liberation Sans&quot;,Arial,sans-serif" font-size="43.5" font-weight="bold" text-anchor="middle" fill="#141414" textLength="399" lengthAdjust="spacingAndGlyphs" transform="rotate(-90 1207.5 371)">Cell proliferation(%)</text>
<text x="1355" y="112" font-family="&quot;Liberation Serif&quot;,&quot;Times New Roman&quot;,serif" font-size="79" font-weight="bold" text-anchor="start" fill="#000">B</text>
<line x1="1300.8" y1="798.2" x2="1300.8" y2="1335.4" stroke="#262626" stroke-width="4"/>
<line x1="1287.8" y1="1335.4" x2="1300.8" y2="1335.4" stroke="#262626" stroke-width="4.2"/>
<text x="1277.5" y="1347.5" font-family="&quot;Liberation Sans&quot;,Arial,sans-serif" font-size="33.5" font-weight="normal" text-anchor="end" fill="#262626" textLength="17.7" lengthAdjust="spacingAndGlyphs" stroke="#262626" stroke-width="1.3">0</text>
<line x1="1287.8" y1="1157" x2="1300.8" y2="1157" stroke="#262626" stroke-width="4.2"/>
<text x="1277.5" y="1169.1" font-family="&quot;Liberation Sans&quot;,Arial,sans-serif" font-size="33.5" font-weight="normal" text-anchor="end" fill="#262626" textLength="35.4" lengthAdjust="spacingAndGlyphs" stroke="#262626" stroke-width="1.3">20</text>
<line x1="1287.8" y1="978.6" x2="1300.8" y2="978.6" stroke="#262626" stroke-width="4.2"/>
<text x="1277.5" y="990.7" font-family="&quot;Liberation Sans&quot;,Arial,sans-serif" font-size="33.5" font-weight="normal" text-anchor="end" fill="#262626" textLength="35.4" lengthAdjust="spacingAndGlyphs" stroke="#262626" stroke-width="1.3">40</text>
<line x1="1287.8" y1="800.2" x2="1300.8" y2="800.2" stroke="#262626" stroke-width="4.2"/>
<text x="1277.5" y="812.3" font-family="&quot;Liberation Sans&quot;,Arial,sans-serif" font-size="33.5" font-weight="normal" text-anchor="end" fill="#262626" textLength="35.4" lengthAdjust="spacingAndGlyphs" stroke="#262626" stroke-width="1.3">60</text>
<line x1="1283" y1="1335.4" x2="2178" y2="1335.4" stroke="#262626" stroke-width="4.2"/>
<line x1="1347.5" y1="1281.9" x2="1347.5" y2="1269.4" stroke="#111" stroke-width="5.4"/>
<line x1="1330.5" y1="1269.4" x2="1364.5" y2="1269.4" stroke="#111" stroke-width="6.2"/>
<rect x="1318.4" y="1284.6" width="58.1" height="50.8" fill="url(#pDot)" stroke="#111" stroke-width="5.4"/>
<text x="1343.5" y="1241.5" font-family="&quot;Liberation Sans&quot;,Arial,sans-serif" font-size="38" font-weight="bold" text-anchor="middle" fill="#151515" textLength="17.8" lengthAdjust="spacingAndGlyphs">a</text>
<line x1="1425.8" y1="1183.8" x2="1425.8" y2="1155.2" stroke="#111" stroke-width="5.4"/>
<line x1="1408.8" y1="1155.2" x2="1442.8" y2="1155.2" stroke="#111" stroke-width="6.2"/>
<rect x="1396.8" y="1186.5" width="58.1" height="148.9" fill="url(#pChk)" stroke="#111" stroke-width="5.4"/>
<text x="1425.5" y="1136.2" font-family="&quot;Liberation Sans&quot;,Arial,sans-serif" font-size="38" font-weight="bold" text-anchor="middle" fill="#151515" textLength="19.5" lengthAdjust="spacingAndGlyphs">b</text>
<line x1="1506.5" y1="1226.6" x2="1506.5" y2="1213.2" stroke="#111" stroke-width="5.4"/>
<line x1="1489.5" y1="1213.2" x2="1523.5" y2="1213.2" stroke="#111" stroke-width="6.2"/>
<rect x="1477.5" y="1229.3" width="58.1" height="106.1" fill="url(#pHor)" stroke="#111" stroke-width="5.4"/>
<text x="1504.8" y="1192.2" font-family="&quot;Liberation Sans&quot;,Arial,sans-serif" font-size="38" font-weight="bold" text-anchor="middle" fill="#151515" textLength="17.8" lengthAdjust="spacingAndGlyphs">c</text>
<line x1="1586.3" y1="1302.4" x2="1586.3" y2="1295.3" stroke="#111" stroke-width="5.4"/>
<line x1="1569.3" y1="1295.3" x2="1603.3" y2="1295.3" stroke="#111" stroke-width="6.2"/>
<rect x="1557.3" y="1305.1" width="58.1" height="30.3" fill="url(#pVer)" stroke="#111" stroke-width="5.4"/>
<text x="1586" y="1277.4" font-family="&quot;Liberation Sans&quot;,Arial,sans-serif" font-size="38" font-weight="bold" text-anchor="middle" fill="#151515" textLength="17.8" lengthAdjust="spacingAndGlyphs">a</text>
<line x1="1664.8" y1="1183.8" x2="1664.8" y2="1173.1" stroke="#111" stroke-width="5.4"/>
<line x1="1647.8" y1="1173.1" x2="1681.8" y2="1173.1" stroke="#111" stroke-width="6.2"/>
<rect x="1635.7" y="1186.5" width="58.1" height="148.9" fill="url(#pDia)" stroke="#111" stroke-width="5.4"/>
<text x="1662.2" y="1159.9" font-family="&quot;Liberation Sans&quot;,Arial,sans-serif" font-size="38" font-weight="bold" text-anchor="middle" fill="#151515" textLength="19.5" lengthAdjust="spacingAndGlyphs">b</text>
<line x1="1767.5" y1="1100.8" x2="1767.5" y2="1091" stroke="#111" stroke-width="5.4"/>
<line x1="1750.5" y1="1091" x2="1784.5" y2="1091" stroke="#111" stroke-width="6.2"/>
<rect x="1738.4" y="1103.5" width="58.1" height="231.9" fill="url(#pDot)" stroke="#111" stroke-width="5.4"/>
<text x="1763.9" y="1066.7" font-family="&quot;Liberation Sans&quot;,Arial,sans-serif" font-size="38" font-weight="bold" text-anchor="middle" fill="#151515" textLength="19.5" lengthAdjust="spacingAndGlyphs">d</text>
<line x1="1847.2" y1="890.3" x2="1847.2" y2="871.6" stroke="#111" stroke-width="5.4"/>
<line x1="1830.2" y1="871.6" x2="1864.2" y2="871.6" stroke="#111" stroke-width="6.2"/>
<rect x="1818.2" y="893" width="58.1" height="442.4" fill="url(#pChk)" stroke="#111" stroke-width="5.4"/>
<text x="1844.6" y="850.2" font-family="&quot;Liberation Sans&quot;,Arial,sans-serif" font-size="38" font-weight="bold" text-anchor="middle" fill="#151515" textLength="17.8" lengthAdjust="spacingAndGlyphs">e</text>
<line x1="1927" y1="1157" x2="1927" y2="1112.4" stroke="#111" stroke-width="5.4"/>
<line x1="1910" y1="1112.4" x2="1944" y2="1112.4" stroke="#111" stroke-width="6.2"/>
<rect x="1897.9" y="1159.7" width="58.1" height="175.7" fill="url(#pHor)" stroke="#111" stroke-width="5.4"/>
<text x="1924.4" y="1086.9" font-family="&quot;Liberation Sans&quot;,Arial,sans-serif" font-size="38" font-weight="bold" text-anchor="middle" fill="#151515" textLength="19.5" lengthAdjust="spacingAndGlyphs">d</text>
<line x1="2005.5" y1="1194.5" x2="2005.5" y2="1182.9" stroke="#111" stroke-width="5.4"/>
<line x1="1988.5" y1="1182.9" x2="2022.5" y2="1182.9" stroke="#111" stroke-width="6.2"/>
<rect x="1976.4" y="1197.2" width="58.1" height="138.2" fill="url(#pVer)" stroke="#111" stroke-width="5.4"/>
<text x="2007.3" y="1169.8" font-family="&quot;Liberation Sans&quot;,Arial,sans-serif" font-size="38" font-weight="bold" text-anchor="middle" fill="#151515" textLength="10.6" lengthAdjust="spacingAndGlyphs">f</text>
<line x1="2081.2" y1="1157" x2="2081.2" y2="1146.3" stroke="#111" stroke-width="5.4"/>
<line x1="2064.2" y1="1146.3" x2="2098.2" y2="1146.3" stroke="#111" stroke-width="6.2"/>
<rect x="2052.1" y="1159.7" width="58.1" height="175.7" fill="url(#pDia)" stroke="#111" stroke-width="5.4"/>
<text x="2077.7" y="1131.7" font-family="&quot;Liberation Sans&quot;,Arial,sans-serif" font-size="38" font-weight="bold" text-anchor="middle" fill="#151515" textLength="30.1" lengthAdjust="spacingAndGlyphs">df</text>
<rect x="2114.8" y="822.6" width="34.5" height="32" fill="url(#pDot)" stroke="#111" stroke-width="5"/>
<text x="2175.8" y="852.7" font-family="&quot;Liberation Sans&quot;,Arial,sans-serif" font-size="44.4" font-weight="normal" text-anchor="start" fill="#2a2a2a" textLength="45.5" lengthAdjust="spacingAndGlyphs">B1</text>
<rect x="2114.8" y="884" width="34.5" height="32" fill="url(#pChk)" stroke="#111" stroke-width="5"/>
<text x="2175.8" y="914.1" font-family="&quot;Liberation Sans&quot;,Arial,sans-serif" font-size="44.4" font-weight="normal" text-anchor="start" fill="#2a2a2a" textLength="45.5" lengthAdjust="spacingAndGlyphs">B2</text>
<rect x="2114.8" y="945.4" width="34.5" height="32" fill="url(#pHor)" stroke="#111" stroke-width="5"/>
<text x="2175.8" y="975.5" font-family="&quot;Liberation Sans&quot;,Arial,sans-serif" font-size="44.4" font-weight="normal" text-anchor="start" fill="#2a2a2a" textLength="45.5" lengthAdjust="spacingAndGlyphs">B3</text>
<rect x="2114.8" y="1006.8" width="34.5" height="32" fill="url(#pVer)" stroke="#111" stroke-width="5"/>
<text x="2175.8" y="1036.9" font-family="&quot;Liberation Sans&quot;,Arial,sans-serif" font-size="44.4" font-weight="normal" text-anchor="start" fill="#2a2a2a" textLength="45.5" lengthAdjust="spacingAndGlyphs">B4</text>
<rect x="2114.8" y="1068.2" width="34.5" height="32" fill="url(#pDia)" stroke="#111" stroke-width="5"/>
<text x="2175.8" y="1098.3" font-family="&quot;Liberation Sans&quot;,Arial,sans-serif" font-size="44.4" font-weight="normal" text-anchor="start" fill="#2a2a2a" textLength="45.5" lengthAdjust="spacingAndGlyphs">B5</text>
<text x="1504.3" y="1386.3" font-family="&quot;Liberation Sans&quot;,Arial,sans-serif" font-size="31" font-weight="bold" text-anchor="middle" fill="#1e1e1e" textLength="33.8" lengthAdjust="spacingAndGlyphs">10</text>
<text x="1926.5" y="1380" font-family="&quot;Liberation Sans&quot;,Arial,sans-serif" font-size="31" font-weight="bold" text-anchor="middle" fill="#1e1e1e" textLength="33.8" lengthAdjust="spacingAndGlyphs">50</text>
<text x="1731.8" y="1452.2" font-family="&quot;Liberation Sans&quot;,Arial,sans-serif" font-size="42" font-weight="bold" text-anchor="middle" fill="#141414" textLength="436" lengthAdjust="spacingAndGlyphs">Concentration(μg/mL)</text>
<text x="1208" y="1082" font-family="&quot;Liberation Sans&quot;,Arial,sans-serif" font-size="43.5" font-weight="bold" text-anchor="middle" fill="#141414" textLength="397.5" lengthAdjust="spacingAndGlyphs" transform="rotate(-90 1208 1082)">Cell proliferation(%)</text>
<text x="1367" y="843" font-family="&quot;Liberation Serif&quot;,&quot;Times New Roman&quot;,serif" font-size="78" font-weight="bold" text-anchor="start" fill="#000">D</text>
<line x1="1312" y1="1545.8" x2="1312" y2="2044.3" stroke="#262626" stroke-width="4.6"/>
<line x1="1299" y1="2044.3" x2="1312" y2="2044.3" stroke="#262626" stroke-width="4.2"/>
<text x="1286.5" y="2056.7" font-family="&quot;Liberation Sans&quot;,Arial,sans-serif" font-size="34.4" font-weight="normal" text-anchor="end" fill="#262626" textLength="17.2" lengthAdjust="spacingAndGlyphs" stroke="#262626" stroke-width="1.3">0</text>
<line x1="1299" y1="1878.8" x2="1312" y2="1878.8" stroke="#262626" stroke-width="4.2"/>
<text x="1286.5" y="1891.2" font-family="&quot;Liberation Sans&quot;,Arial,sans-serif" font-size="34.4" font-weight="normal" text-anchor="end" fill="#262626" textLength="34.4" lengthAdjust="spacingAndGlyphs" stroke="#262626" stroke-width="1.3">20</text>
<line x1="1299" y1="1713.3" x2="1312" y2="1713.3" stroke="#262626" stroke-width="4.2"/>
<text x="1286.5" y="1725.7" font-family="&quot;Liberation Sans&quot;,Arial,sans-serif" font-size="34.4" font-weight="normal" text-anchor="end" fill="#262626" textLength="34.4" lengthAdjust="spacingAndGlyphs" stroke="#262626" stroke-width="1.3">40</text>
<line x1="1299" y1="1547.8" x2="1312" y2="1547.8" stroke="#262626" stroke-width="4.2"/>
<text x="1286.5" y="1560.2" font-family="&quot;Liberation Sans&quot;,Arial,sans-serif" font-size="34.4" font-weight="normal" text-anchor="end" fill="#262626" textLength="34.4" lengthAdjust="spacingAndGlyphs" stroke="#262626" stroke-width="1.3">60</text>
<line x1="1290" y1="2044.3" x2="2348" y2="2044.3" stroke="#262626" stroke-width="4.2"/>
<line x1="1382.5" y1="1920.2" x2="1382.5" y2="1902" stroke="#111" stroke-width="5.4"/>
<line x1="1360.5" y1="1902" x2="1404.5" y2="1902" stroke="#111" stroke-width="6.2"/>
<rect x="1343" y="1922.9" width="79.1" height="121.4" fill="url(#pDot)" stroke="#111" stroke-width="5.4"/>
<text x="1383.2" y="1879.7" font-family="&quot;Liberation Sans&quot;,Arial,sans-serif" font-size="33" font-weight="bold" text-anchor="middle" fill="#151515" textLength="15.4" lengthAdjust="spacingAndGlyphs">a</text>
<line x1="1487" y1="2025.3" x2="1487" y2="2022.8" stroke="#111" stroke-width="5.4"/>
<line x1="1465" y1="2022.8" x2="1509" y2="2022.8" stroke="#111" stroke-width="6.2"/>
<rect x="1447.4" y="2028" width="79.1" height="16.3" fill="url(#pChk)" stroke="#111" stroke-width="5.4"/>
<text x="1485.5" y="1999.2" font-family="&quot;Liberation Sans&quot;,Arial,sans-serif" font-size="33" font-weight="bold" text-anchor="middle" fill="#151515" textLength="16.9" lengthAdjust="spacingAndGlyphs">b</text>
<line x1="1590.2" y1="1965.7" x2="1590.2" y2="1954.1" stroke="#111" stroke-width="5.4"/>
<line x1="1568.2" y1="1954.1" x2="1612.2" y2="1954.1" stroke="#111" stroke-width="6.2"/>
<rect x="1550.7" y="1968.4" width="79.1" height="75.9" fill="url(#pHor)" stroke="#111" stroke-width="5.4"/>
<text x="1586.4" y="1940.2" font-family="&quot;Liberation Sans&quot;,Arial,sans-serif" font-size="33" font-weight="bold" text-anchor="middle" fill="#151515" textLength="15.4" lengthAdjust="spacingAndGlyphs">c</text>
<line x1="1692.7" y1="1995.5" x2="1692.7" y2="1983.9" stroke="#111" stroke-width="5.4"/>
<line x1="1670.7" y1="1983.9" x2="1714.7" y2="1983.9" stroke="#111" stroke-width="6.2"/>
<rect x="1653.1" y="1998.2" width="79.1" height="46.1" fill="url(#pVer)" stroke="#111" stroke-width="5.4"/>
<text x="1689.2" y="1962.9" font-family="&quot;Liberation Sans&quot;,Arial,sans-serif" font-size="33" font-weight="bold" text-anchor="middle" fill="#151515" textLength="16.9" lengthAdjust="spacingAndGlyphs">d</text>
<line x1="1815.2" y1="1705.9" x2="1815.2" y2="1681" stroke="#111" stroke-width="5.4"/>
<line x1="1793.2" y1="1681" x2="1837.2" y2="1681" stroke="#111" stroke-width="6.2"/>
<rect x="1775.7" y="1708.6" width="79.1" height="335.7" fill="url(#pDot)" stroke="#111" stroke-width="5.4"/>
<text x="1809.2" y="1655.3" font-family="&quot;Liberation Sans&quot;,Arial,sans-serif" font-size="33" font-weight="bold" text-anchor="middle" fill="#151515" textLength="15.4" lengthAdjust="spacingAndGlyphs">e</text>
<line x1="1918" y1="1827.5" x2="1918" y2="1825" stroke="#111" stroke-width="5.4"/>
<line x1="1896" y1="1825" x2="1940" y2="1825" stroke="#111" stroke-width="6.2"/>
<rect x="1878.5" y="1830.2" width="79.1" height="214.1" fill="url(#pChk)" stroke="#111" stroke-width="5.4"/>
<text x="1917.7" y="1807.6" font-family="&quot;Liberation Sans&quot;,Arial,sans-serif" font-size="33" font-weight="bold" text-anchor="middle" fill="#151515" textLength="9.2" lengthAdjust="spacingAndGlyphs">f</text>
<line x1="2016.3" y1="1870.5" x2="2016.3" y2="1856.5" stroke="#111" stroke-width="5.4"/>
<line x1="1994.3" y1="1856.5" x2="2038.3" y2="1856.5" stroke="#111" stroke-width="6.2"/>
<rect x="1976.8" y="1873.2" width="79.1" height="171.1" fill="url(#pHor)" stroke="#111" stroke-width="5.4"/>
<text x="2012.4" y="1835.5" font-family="&quot;Liberation Sans&quot;,Arial,sans-serif" font-size="33" font-weight="bold" text-anchor="middle" fill="#151515" textLength="16.9" lengthAdjust="spacingAndGlyphs">g</text>
<line x1="2116.2" y1="1897" x2="2116.2" y2="1883.8" stroke="#111" stroke-width="5.4"/>
<line x1="2094.2" y1="1883.8" x2="2138.2" y2="1883.8" stroke="#111" stroke-width="6.2"/>
<rect x="2076.7" y="1899.7" width="79.1" height="144.6" fill="url(#pVer)" stroke="#111" stroke-width="5.4"/>
<text x="2115.8" y="1858" font-family="&quot;Liberation Sans&quot;,Arial,sans-serif" font-size="33" font-weight="bold" text-anchor="middle" fill="#151515" textLength="16.9" lengthAdjust="spacingAndGlyphs">g</text>
<rect x="2168.7" y="1614.3" width="59.5" height="29" fill="url(#pDot)" stroke="#111" stroke-width="5"/>
<text x="2258.1" y="1640" font-family="&quot;Liberation Serif&quot;,&quot;Times New Roman&quot;,serif" font-size="40.7" font-weight="normal" text-anchor="start" fill="#2a2a2a" textLength="46" lengthAdjust="spacingAndGlyphs">C1</text>
<rect x="2168.7" y="1671.6" width="59.5" height="29" fill="url(#pChk)" stroke="#111" stroke-width="5"/>
<text x="2258.1" y="1697.3" font-family="&quot;Liberation Serif&quot;,&quot;Times New Roman&quot;,serif" font-size="40.7" font-weight="normal" text-anchor="start" fill="#2a2a2a" textLength="46" lengthAdjust="spacingAndGlyphs">C2</text>
<rect x="2168.7" y="1728.9" width="59.5" height="29" fill="url(#pHor)" stroke="#111" stroke-width="5"/>
<text x="2258.1" y="1754.6" font-family="&quot;Liberation Serif&quot;,&quot;Times New Roman&quot;,serif" font-size="40.7" font-weight="normal" text-anchor="start" fill="#2a2a2a" textLength="46" lengthAdjust="spacingAndGlyphs">C3</text>
<rect x="2168.7" y="1786.2" width="59.5" height="29" fill="url(#pVer)" stroke="#111" stroke-width="5"/>
<text x="2258.1" y="1811.9" font-family="&quot;Liberation Serif&quot;,&quot;Times New Roman&quot;,serif" font-size="40.7" font-weight="normal" text-anchor="start" fill="#2a2a2a" textLength="46" lengthAdjust="spacingAndGlyphs">C4</text>
<text x="1557.8" y="2102" font-family="&quot;Liberation Sans&quot;,Arial,sans-serif" font-size="37" font-weight="bold" text-anchor="middle" fill="#1e1e1e" textLength="41.2" lengthAdjust="spacingAndGlyphs">10</text>
<text x="1973.2" y="2096.4" font-family="&quot;Liberation Sans&quot;,Arial,sans-serif" font-size="37" font-weight="bold" text-anchor="middle" fill="#1e1e1e" textLength="41.2" lengthAdjust="spacingAndGlyphs">50</text>
<text x="1754.4" y="2162.4" font-family="&quot;Liberation Sans&quot;,Arial,sans-serif" font-size="37" font-weight="bold" text-anchor="middle" fill="#141414" textLength="389" lengthAdjust="spacingAndGlyphs">Concentration(μg/mL)</text>
<text x="1209" y="1803" font-family="&quot;Liberation Sans&quot;,Arial,sans-serif" font-size="43.5" font-weight="bold" text-anchor="middle" fill="#141414" textLength="396" lengthAdjust="spacingAndGlyphs" transform="rotate(-90 1209 1803)">Cell proliferation(%)</text>
<text x="1423" y="1577" font-family="&quot;Liberation Serif&quot;,&quot;Times New Roman&quot;,serif" font-size="79" font-weight="bold" text-anchor="start" fill="#000">F</text>
<line x1="164.3" y1="1506.8" x2="164.3" y2="2051.3" stroke="#141414" stroke-width="4.2"/>
<line x1="162" y1="2049.3" x2="664" y2="2049.3" stroke="#141414" stroke-width="4.8"/>
<line x1="662" y1="2046.5" x2="1162" y2="2046.5" stroke="#141414" stroke-width="4.8"/>
<line x1="154.3" y1="2026.2" x2="164.3" y2="2026.2" stroke="#141414" stroke-width="2.4"/>
<text x="148.5" y="2036.5" font-family="&quot;Liberation Sans&quot;,Arial,sans-serif" font-size="29" font-weight="bold" text-anchor="end" fill="#1c1c1c" textLength="16.1" lengthAdjust="spacingAndGlyphs">0</text>
<line x1="154.3" y1="1949.9" x2="164.3" y2="1949.9" stroke="#141414" stroke-width="2.4"/>
<text x="148.5" y="1960.2" font-family="&quot;Liberation Sans&quot;,Arial,sans-serif" font-size="29" font-weight="bold" text-anchor="end" fill="#1c1c1c" textLength="32.3" lengthAdjust="spacingAndGlyphs">20</text>
<line x1="154.3" y1="1873.6" x2="164.3" y2="1873.6" stroke="#141414" stroke-width="2.4"/>
<text x="148.5" y="1883.9" font-family="&quot;Liberation Sans&quot;,Arial,sans-serif" font-size="29" font-weight="bold" text-anchor="end" fill="#1c1c1c" textLength="32.3" lengthAdjust="spacingAndGlyphs">40</text>
<line x1="154.3" y1="1797.3" x2="164.3" y2="1797.3" stroke="#141414" stroke-width="2.4"/>
<text x="148.5" y="1807.6" font-family="&quot;Liberation Sans&quot;,Arial,sans-serif" font-size="29" font-weight="bold" text-anchor="end" fill="#1c1c1c" textLength="32.3" lengthAdjust="spacingAndGlyphs">60</text>
<line x1="154.3" y1="1721" x2="164.3" y2="1721" stroke="#141414" stroke-width="2.4"/>
<text x="148.5" y="1731.3" font-family="&quot;Liberation Sans&quot;,Arial,sans-serif" font-size="29" font-weight="bold" text-anchor="end" fill="#1c1c1c" textLength="32.3" lengthAdjust="spacingAndGlyphs">80</text>
<line x1="154.3" y1="1644.7" x2="164.3" y2="1644.7" stroke="#141414" stroke-width="2.4"/>
<text x="148.5" y="1655" font-family="&quot;Liberation Sans&quot;,Arial,sans-serif" font-size="29" font-weight="bold" text-anchor="end" fill="#1c1c1c" textLength="48.4" lengthAdjust="spacingAndGlyphs">100</text>
<line x1="154.3" y1="1568.4" x2="164.3" y2="1568.4" stroke="#141414" stroke-width="2.4"/>
<text x="148.5" y="1578.7" font-family="&quot;Liberation Sans&quot;,Arial,sans-serif" font-size="29" font-weight="bold" text-anchor="end" fill="#1c1c1c" textLength="48.4" lengthAdjust="spacingAndGlyphs">120</text>
<line x1="157.3" y1="2045.3" x2="164.3" y2="2045.3" stroke="#3a3a3a" stroke-width="2.2"/>
<line x1="157.3" y1="2007.1" x2="164.3" y2="2007.1" stroke="#3a3a3a" stroke-width="2.2"/>
<line x1="157.3" y1="1988" x2="164.3" y2="1988" stroke="#3a3a3a" stroke-width="2.2"/>
<line x1="157.3" y1="1969" x2="164.3" y2="1969" stroke="#3a3a3a" stroke-width="2.2"/>
<line x1="157.3" y1="1930.8" x2="164.3" y2="1930.8" stroke="#3a3a3a" stroke-width="2.2"/>
<line x1="157.3" y1="1911.8" x2="164.3" y2="1911.8" stroke="#3a3a3a" stroke-width="2.2"/>
<line x1="157.3" y1="1892.7" x2="164.3" y2="1892.7" stroke="#3a3a3a" stroke-width="2.2"/>
<line x1="157.3" y1="1854.5" x2="164.3" y2="1854.5" stroke="#3a3a3a" stroke-width="2.2"/>
<line x1="157.3" y1="1835.5" x2="164.3" y2="1835.5" stroke="#3a3a3a" stroke-width="2.2"/>
<line x1="157.3" y1="1816.4" x2="164.3" y2="1816.4" stroke="#3a3a3a" stroke-width="2.2"/>
<line x1="157.3" y1="1778.2" x2="164.3" y2="1778.2" stroke="#3a3a3a" stroke-width="2.2"/>
<line x1="157.3" y1="1759.2" x2="164.3" y2="1759.2" stroke="#3a3a3a" stroke-width="2.2"/>
<line x1="157.3" y1="1740.1" x2="164.3" y2="1740.1" stroke="#3a3a3a" stroke-width="2.2"/>
<line x1="157.3" y1="1701.9" x2="164.3" y2="1701.9" stroke="#3a3a3a" stroke-width="2.2"/>
<line x1="157.3" y1="1682.8" x2="164.3" y2="1682.8" stroke="#3a3a3a" stroke-width="2.2"/>
<line x1="157.3" y1="1663.8" x2="164.3" y2="1663.8" stroke="#3a3a3a" stroke-width="2.2"/>
<line x1="157.3" y1="1625.6" x2="164.3" y2="1625.6" stroke="#3a3a3a" stroke-width="2.2"/>
<line x1="157.3" y1="1606.6" x2="164.3" y2="1606.6" stroke="#3a3a3a" stroke-width="2.2"/>
<line x1="157.3" y1="1587.5" x2="164.3" y2="1587.5" stroke="#3a3a3a" stroke-width="2.2"/>
<line x1="157.3" y1="1549.3" x2="164.3" y2="1549.3" stroke="#3a3a3a" stroke-width="2.2"/>
<line x1="157.3" y1="1530.2" x2="164.3" y2="1530.2" stroke="#3a3a3a" stroke-width="2.2"/>
<line x1="157.3" y1="1511.2" x2="164.3" y2="1511.2" stroke="#3a3a3a" stroke-width="2.2"/>
<line x1="196.3" y1="2049.3" x2="196.3" y2="2054.7" stroke="#333" stroke-width="2.6"/>
<line x1="229.4" y1="2049.3" x2="229.4" y2="2054.7" stroke="#333" stroke-width="2.6"/>
<line x1="262.6" y1="2049.3" x2="262.6" y2="2054.7" stroke="#333" stroke-width="2.6"/>
<line x1="295.7" y1="2049.3" x2="295.7" y2="2054.7" stroke="#333" stroke-width="2.6"/>
<line x1="328.8" y1="2049.3" x2="328.8" y2="2060.2" stroke="#141414" stroke-width="2.4"/>
<line x1="361.9" y1="2049.3" x2="361.9" y2="2054.7" stroke="#333" stroke-width="2.6"/>
<line x1="395" y1="2049.3" x2="395" y2="2054.7" stroke="#333" stroke-width="2.6"/>
<line x1="428.2" y1="2049.3" x2="428.2" y2="2054.7" stroke="#333" stroke-width="2.6"/>
<line x1="461.3" y1="2049.3" x2="461.3" y2="2054.7" stroke="#333" stroke-width="2.6"/>
<line x1="494.4" y1="2049.3" x2="494.4" y2="2060.2" stroke="#141414" stroke-width="2.4"/>
<line x1="527.5" y1="2049.3" x2="527.5" y2="2054.7" stroke="#333" stroke-width="2.6"/>
<line x1="560.6" y1="2049.3" x2="560.6" y2="2054.7" stroke="#333" stroke-width="2.6"/>
<line x1="593.8" y1="2049.3" x2="593.8" y2="2054.7" stroke="#333" stroke-width="2.6"/>
<line x1="626.9" y1="2049.3" x2="626.9" y2="2054.7" stroke="#333" stroke-width="2.6"/>
<line x1="660" y1="2049.3" x2="660" y2="2060.2" stroke="#141414" stroke-width="2.4"/>
<line x1="693.1" y1="2046.5" x2="693.1" y2="2051.9" stroke="#333" stroke-width="2.6"/>
<line x1="726.2" y1="2046.5" x2="726.2" y2="2051.9" stroke="#333" stroke-width="2.6"/>
<line x1="759.4" y1="2046.5" x2="759.4" y2="2051.9" stroke="#333" stroke-width="2.6"/>
<line x1="792.5" y1="2046.5" x2="792.5" y2="2051.9" stroke="#333" stroke-width="2.6"/>
<line x1="825.6" y1="2046.5" x2="825.6" y2="2057.4" stroke="#141414" stroke-width="2.4"/>
<line x1="858.7" y1="2046.5" x2="858.7" y2="2051.9" stroke="#333" stroke-width="2.6"/>
<line x1="891.8" y1="2046.5" x2="891.8" y2="2051.9" stroke="#333" stroke-width="2.6"/>
<line x1="925" y1="2046.5" x2="925" y2="2051.9" stroke="#333" stroke-width="2.6"/>
<line x1="958.1" y1="2046.5" x2="958.1" y2="2051.9" stroke="#333" stroke-width="2.6"/>
<line x1="991.2" y1="2046.5" x2="991.2" y2="2057.4" stroke="#141414" stroke-width="2.4"/>
<line x1="1024.3" y1="2046.5" x2="1024.3" y2="2051.9" stroke="#333" stroke-width="2.6"/>
<line x1="1057.4" y1="2046.5" x2="1057.4" y2="2051.9" stroke="#333" stroke-width="2.6"/>
<line x1="1090.6" y1="2046.5" x2="1090.6" y2="2051.9" stroke="#333" stroke-width="2.6"/>
<line x1="1123.7" y1="2046.5" x2="1123.7" y2="2051.9" stroke="#333" stroke-width="2.6"/>
<line x1="1156.8" y1="2046.5" x2="1156.8" y2="2057.4" stroke="#141414" stroke-width="2.4"/>
<text x="329" y="2092.5" font-family="&quot;Liberation Sans&quot;,Arial,sans-serif" font-size="27.5" font-weight="bold" text-anchor="middle" fill="#1c1c1c" textLength="15.3" lengthAdjust="spacingAndGlyphs">5</text>
<text x="495.7" y="2093" font-family="&quot;Liberation Sans&quot;,Arial,sans-serif" font-size="27.5" font-weight="bold" text-anchor="middle" fill="#1c1c1c" textLength="30.6" lengthAdjust="spacingAndGlyphs">10</text>
<text x="662.5" y="2092.5" font-family="&quot;Liberation Sans&quot;,Arial,sans-serif" font-size="27.5" font-weight="bold" text-anchor="middle" fill="#1c1c1c" textLength="30.6" lengthAdjust="spacingAndGlyphs">15</text>
<text x="827.8" y="2095" font-family="&quot;Liberation Sans&quot;,Arial,sans-serif" font-size="27.5" font-weight="bold" text-anchor="middle" fill="#1c1c1c" textLength="30.6" lengthAdjust="spacingAndGlyphs">20</text>
<text x="999.8" y="2096.5" font-family="&quot;Liberation Sans&quot;,Arial,sans-serif" font-size="27.5" font-weight="bold" text-anchor="middle" fill="#1c1c1c" textLength="30.6" lengthAdjust="spacingAndGlyphs">25</text>
<text x="1151.5" y="2090.7" font-family="&quot;Liberation Sans&quot;,Arial,sans-serif" font-size="29" font-weight="bold" text-anchor="end" fill="#1c1c1c" textLength="51.8" lengthAdjust="spacingAndGlyphs">min</text>
<text x="154.1" y="1531.5" font-family="&quot;Liberation Sans&quot;,Arial,sans-serif" font-size="29" font-weight="bold" text-anchor="end" fill="#1c1c1c" textLength="69.5" lengthAdjust="spacingAndGlyphs">mAU</text>
<text x="240" y="1575" font-family="&quot;Liberation Serif&quot;,&quot;Times New Roman&quot;,serif" font-size="80" font-weight="bold" text-anchor="start" fill="#000">E</text>
<path d="M165 2031.8 C268.7 2031.8 372.3 2031.8 476 2031.8 C477.7 2031.8 479.3 2031.7 481 2031.5 C483 2031.3 484.9 2031 486.9 2030 C488.4 2029.3 489.9 2021 491.4 2016.5 C493.5 2010.3 495.5 1999.4 497.6 1997.7 C499.1 1996.5 500.5 1995.6 502 1995.5 C504.1 1995.4 506.3 1995.4 508.4 1995.3 C509.4 1995.2 510.5 1986.9 511.5 1980.7 C512.6 1974.3 513.6 1956.8 514.7 1953.8 C516 1950.1 517.4 1947.3 518.7 1947.3 C520 1947.3 521.4 1951.9 522.7 1955.6 C523.9 1958.9 525.1 1965.3 526.3 1969.9 C528.1 1976.8 529.9 1984.3 531.7 1989.6 C533.8 1995.8 535.9 2002.3 538 2004.9 C540.7 2008.2 543.3 2011.3 546 2011.4 C547.3 2011.5 548.7 2011.5 550 2011.5 C551.1 2011.5 552.1 2010.6 553.2 2009.4 C554.3 2008.2 555.3 2004.4 556.4 1998.6 C557.1 1994.6 557.9 1983.9 558.6 1971.7 C559.2 1961.7 559.8 1943.4 560.4 1926.9 C560.7 1918.7 561 1913.7 561.3 1900 C561.6 1884.8 562 1832.9 562.3 1800 C562.7 1763.8 563 1714.1 563.4 1693 C563.9 1662.3 564.5 1646.4 565 1630 C565.4 1618.7 565.7 1610.2 566.1 1601.7 C566.7 1587 567.4 1568.1 568 1562 C568.7 1554.9 569.5 1548.5 570.2 1548.5 C570.8 1548.5 571.4 1554.5 572 1560 C572.8 1567.3 573.6 1584.5 574.4 1601.7 C574.9 1613.2 575.5 1631.4 576 1645 C576.7 1662 577.3 1675.6 578 1693 C578.8 1714.7 579.7 1743.2 580.5 1765 C581.3 1786.8 582.2 1808.7 583 1825 C583.9 1842 584.7 1856 585.6 1868 C586.5 1880 587.3 1889.2 588.2 1899 C589.1 1908.8 589.9 1918.9 590.8 1927 C591.7 1935.7 592.7 1941.7 593.6 1950 C594.8 1960.4 595.9 1977.4 597.1 1984 C599.2 1995.9 601.3 2003.7 603.4 2007.6 C606.4 2013.2 609.4 2016 612.4 2018.3 C614.9 2020.3 617.5 2022 620 2022.8 C623.3 2023.8 626.7 2024.5 630 2024.8 C633.7 2025.1 637.3 2025.4 641 2025.4 C647.2 2025.4 653.3 2025.1 659.5 2024.5 C663.7 2024.1 667.8 2020.5 672 2018 C675 2016.2 678.1 2013.9 681.1 2011.6 C686.2 2007.8 691.4 2004.5 696.5 1999.2 C698.3 1997.3 700.2 1995.5 702 1992 C703.3 1989.6 704.5 1985.2 705.8 1980 C707.2 1974.3 708.6 1965.7 710 1955 C711.7 1942.3 713.3 1922.1 715 1900.6 C716.5 1881.3 718 1854 719.5 1830 C720.8 1808.7 722.2 1784.2 723.5 1765 C724.9 1744.4 726.4 1723.4 727.8 1709.5 C728.7 1700.8 729.6 1692.1 730.5 1688 C731.2 1684.8 731.9 1681.1 732.6 1681.1 C733.4 1681.1 734.2 1684.8 735 1688 C735.8 1691 736.5 1697.2 737.3 1702.7 C738.2 1709.2 739.1 1718.3 740 1725 C740.9 1731.7 741.8 1743.2 742.7 1743.2 C743.6 1743.2 744.5 1718.1 745.4 1702.7 C746.3 1687.3 747.2 1669.5 748.1 1648.6 C748.8 1633.2 749.4 1606.2 750.1 1594.6 C751 1578.9 751.9 1568.9 752.8 1560.8 C753.7 1552.7 754.6 1541.9 755.5 1541.9 C756.6 1541.9 757.8 1557.7 758.9 1563.5 C760.3 1570.5 761.6 1573.8 763 1581 C764.3 1588 765.7 1598.3 767 1608.1 C768.1 1616.4 769.3 1624.9 770.4 1635.1 C771.1 1641.1 771.7 1653 772.4 1655.4 C773.8 1660.3 775.1 1660.6 776.5 1663.5 C779.2 1669.2 781.9 1675.3 784.6 1682.4 C786.9 1688.4 789.1 1693.4 791.4 1702.7 C793.2 1710.1 795 1723.5 796.8 1736.5 C798.1 1746.2 799.5 1758.4 800.8 1770.3 C802.5 1785.8 804.3 1804.7 806 1820 C808 1837.9 810.1 1856.3 812.1 1869.8 C814.4 1885 816.7 1897 819 1908 C821.3 1919.2 823.7 1929.6 826 1937.6 C829 1947.8 832 1955.6 835 1963 C838.2 1970.8 841.3 1977.8 844.5 1983.8 C847.3 1989.2 850.2 1994.3 853 1998 C856.3 2002.3 859.7 2006.3 863 2008.5 C866 2010.5 869 2012.2 872 2013 C875.1 2013.9 878.3 2014.8 881.4 2014.8 C884.6 2014.8 887.8 2013.2 891 2012.5 C894 2011.9 896.9 2010.8 899.9 2010.8 C901.9 2010.8 904 2012.6 906 2013.5 C908.1 2014.4 910.1 2015.5 912.2 2016.2 C916.5 2017.6 920.7 2018.8 925 2019.5 C929 2020.1 932.9 2020.8 936.9 2020.8 C939.9 2020.8 943 2019 946 2018 C949.1 2017 952.3 2014.8 955.4 2014.8 C957.9 2014.8 960.5 2017.4 963 2018.5 C965.6 2019.6 968.2 2021 970.8 2021.5 C975.5 2022.3 980.3 2022.6 985 2023 C990 2023.4 995 2023.8 1000 2024 C1016.7 2024.7 1033.3 2025.2 1050 2025.3 C1086 2025.6 1122 2025.6 1158 2025.8" stroke="#8484c4" stroke-width="2" fill="none"/>
<path d="M476 2032.5 L881.4 2014.8" stroke="#e58ad0" stroke-width="2" fill="none"/>
<line x1="547.4" y1="2011.5" x2="547.4" y2="2029" stroke="#e58ad0" stroke-width="2"/>
<line x1="742.7" y1="1745" x2="742.7" y2="2021.5" stroke="#e58ad0" stroke-width="2.2"/>
<line x1="570.2" y1="1556" x2="570.2" y2="1570" stroke="#6a6a90" stroke-width="2"/>
<line x1="755.5" y1="1548" x2="755.5" y2="1560" stroke="#6a6a90" stroke-width="2"/>
<line x1="479" y1="2027" x2="479" y2="2034" stroke="#6a6a90" stroke-width="2"/>
<text x="516.7" y="1937.6" font-family="&quot;Liberation Sans&quot;,Arial,sans-serif" font-size="27" font-weight="bold" text-anchor="middle" fill="#1a1a1a" textLength="31.8" lengthAdjust="spacingAndGlyphs">C1</text>
<text x="568" y="1542" font-family="&quot;Liberation Sans&quot;,Arial,sans-serif" font-size="27" font-weight="bold" text-anchor="middle" fill="#1a1a1a" textLength="31.8" lengthAdjust="spacingAndGlyphs">C2</text>
<text x="728.9" y="1660.8" font-family="&quot;Liberation Sans&quot;,Arial,sans-serif" font-size="27" font-weight="bold" text-anchor="middle" fill="#1a1a1a" textLength="31.8" lengthAdjust="spacingAndGlyphs">C3</text>
<text x="756.2" y="1536.2" font-family="&quot;Liberation Sans&quot;,Arial,sans-serif" font-size="27" font-weight="bold" text-anchor="middle" fill="#1a1a1a" textLength="31.8" lengthAdjust="spacingAndGlyphs">C4</text>
<line x1="161.8" y1="2156.8" x2="161.8" y2="2697.6" stroke="#141414" stroke-width="4.2"/>
<line x1="159" y1="2695.6" x2="1159" y2="2695.6" stroke="#141414" stroke-width="4.8"/>
<line x1="151.8" y1="2675.5" x2="161.8" y2="2675.5" stroke="#141414" stroke-width="2.4"/>
<text x="144" y="2685.8" font-family="&quot;Liberation Sans&quot;,Arial,sans-serif" font-size="29" font-weight="bold" text-anchor="end" fill="#1c1c1c" textLength="16.1" lengthAdjust="spacingAndGlyphs">0</text>
<line x1="151.8" y1="2600" x2="161.8" y2="2600" stroke="#141414" stroke-width="2.4"/>
<text x="144" y="2610.3" font-family="&quot;Liberation Sans&quot;,Arial,sans-serif" font-size="29" font-weight="bold" text-anchor="end" fill="#1c1c1c" textLength="48.4" lengthAdjust="spacingAndGlyphs">100</text>
<line x1="151.8" y1="2524.5" x2="161.8" y2="2524.5" stroke="#141414" stroke-width="2.4"/>
<text x="144" y="2534.8" font-family="&quot;Liberation Sans&quot;,Arial,sans-serif" font-size="29" font-weight="bold" text-anchor="end" fill="#1c1c1c" textLength="48.4" lengthAdjust="spacingAndGlyphs">200</text>
<line x1="151.8" y1="2449" x2="161.8" y2="2449" stroke="#141414" stroke-width="2.4"/>
<text x="144" y="2459.3" font-family="&quot;Liberation Sans&quot;,Arial,sans-serif" font-size="29" font-weight="bold" text-anchor="end" fill="#1c1c1c" textLength="48.4" lengthAdjust="spacingAndGlyphs">300</text>
<line x1="151.8" y1="2373.5" x2="161.8" y2="2373.5" stroke="#141414" stroke-width="2.4"/>
<text x="144" y="2383.8" font-family="&quot;Liberation Sans&quot;,Arial,sans-serif" font-size="29" font-weight="bold" text-anchor="end" fill="#1c1c1c" textLength="48.4" lengthAdjust="spacingAndGlyphs">400</text>
<line x1="151.8" y1="2298" x2="161.8" y2="2298" stroke="#141414" stroke-width="2.4"/>
<text x="144" y="2308.3" font-family="&quot;Liberation Sans&quot;,Arial,sans-serif" font-size="29" font-weight="bold" text-anchor="end" fill="#1c1c1c" textLength="48.4" lengthAdjust="spacingAndGlyphs">500</text>
<line x1="151.8" y1="2222.5" x2="161.8" y2="2222.5" stroke="#141414" stroke-width="2.4"/>
<text x="144" y="2232.8" font-family="&quot;Liberation Sans&quot;,Arial,sans-serif" font-size="29" font-weight="bold" text-anchor="end" fill="#1c1c1c" textLength="48.4" lengthAdjust="spacingAndGlyphs">600</text>
<line x1="154.8" y1="2690.6" x2="161.8" y2="2690.6" stroke="#3a3a3a" stroke-width="2.2"/>
<line x1="154.8" y1="2660.4" x2="161.8" y2="2660.4" stroke="#3a3a3a" stroke-width="2.2"/>
<line x1="154.8" y1="2645.3" x2="161.8" y2="2645.3" stroke="#3a3a3a" stroke-width="2.2"/>
<line x1="154.8" y1="2630.2" x2="161.8" y2="2630.2" stroke="#3a3a3a" stroke-width="2.2"/>
<line x1="154.8" y1="2615.1" x2="161.8" y2="2615.1" stroke="#3a3a3a" stroke-width="2.2"/>
<line x1="154.8" y1="2584.9" x2="161.8" y2="2584.9" stroke="#3a3a3a" stroke-width="2.2"/>
<line x1="154.8" y1="2569.8" x2="161.8" y2="2569.8" stroke="#3a3a3a" stroke-width="2.2"/>
<line x1="154.8" y1="2554.7" x2="161.8" y2="2554.7" stroke="#3a3a3a" stroke-width="2.2"/>
<line x1="154.8" y1="2539.6" x2="161.8" y2="2539.6" stroke="#3a3a3a" stroke-width="2.2"/>
<line x1="154.8" y1="2509.4" x2="161.8" y2="2509.4" stroke="#3a3a3a" stroke-width="2.2"/>
<line x1="154.8" y1="2494.3" x2="161.8" y2="2494.3" stroke="#3a3a3a" stroke-width="2.2"/>
<line x1="154.8" y1="2479.2" x2="161.8" y2="2479.2" stroke="#3a3a3a" stroke-width="2.2"/>
<line x1="154.8" y1="2464.1" x2="161.8" y2="2464.1" stroke="#3a3a3a" stroke-width="2.2"/>
<line x1="154.8" y1="2433.9" x2="161.8" y2="2433.9" stroke="#3a3a3a" stroke-width="2.2"/>
<line x1="154.8" y1="2418.8" x2="161.8" y2="2418.8" stroke="#3a3a3a" stroke-width="2.2"/>
<line x1="154.8" y1="2403.7" x2="161.8" y2="2403.7" stroke="#3a3a3a" stroke-width="2.2"/>
<line x1="154.8" y1="2388.6" x2="161.8" y2="2388.6" stroke="#3a3a3a" stroke-width="2.2"/>
<line x1="154.8" y1="2358.4" x2="161.8" y2="2358.4" stroke="#3a3a3a" stroke-width="2.2"/>
<line x1="154.8" y1="2343.3" x2="161.8" y2="2343.3" stroke="#3a3a3a" stroke-width="2.2"/>
<line x1="154.8" y1="2328.2" x2="161.8" y2="2328.2" stroke="#3a3a3a" stroke-width="2.2"/>
<line x1="154.8" y1="2313.1" x2="161.8" y2="2313.1" stroke="#3a3a3a" stroke-width="2.2"/>
<line x1="154.8" y1="2282.9" x2="161.8" y2="2282.9" stroke="#3a3a3a" stroke-width="2.2"/>
<line x1="154.8" y1="2267.8" x2="161.8" y2="2267.8" stroke="#3a3a3a" stroke-width="2.2"/>
<line x1="154.8" y1="2252.7" x2="161.8" y2="2252.7" stroke="#3a3a3a" stroke-width="2.2"/>
<line x1="154.8" y1="2237.6" x2="161.8" y2="2237.6" stroke="#3a3a3a" stroke-width="2.2"/>
<line x1="154.8" y1="2207.4" x2="161.8" y2="2207.4" stroke="#3a3a3a" stroke-width="2.2"/>
<line x1="154.8" y1="2192.3" x2="161.8" y2="2192.3" stroke="#3a3a3a" stroke-width="2.2"/>
<line x1="154.8" y1="2177.2" x2="161.8" y2="2177.2" stroke="#3a3a3a" stroke-width="2.2"/>
<line x1="154.8" y1="2162.1" x2="161.8" y2="2162.1" stroke="#3a3a3a" stroke-width="2.2"/>
<line x1="195.7" y1="2695.6" x2="195.7" y2="2701" stroke="#333" stroke-width="2.6"/>
<line x1="231.9" y1="2695.6" x2="231.9" y2="2701" stroke="#333" stroke-width="2.6"/>
<line x1="268" y1="2695.6" x2="268" y2="2701" stroke="#333" stroke-width="2.6"/>
<line x1="304.2" y1="2695.6" x2="304.2" y2="2701" stroke="#333" stroke-width="2.6"/>
<line x1="340.3" y1="2695.6" x2="340.3" y2="2706.5" stroke="#141414" stroke-width="2.4"/>
<line x1="376.4" y1="2695.6" x2="376.4" y2="2701" stroke="#333" stroke-width="2.6"/>
<line x1="412.6" y1="2695.6" x2="412.6" y2="2701" stroke="#333" stroke-width="2.6"/>
<line x1="448.7" y1="2695.6" x2="448.7" y2="2701" stroke="#333" stroke-width="2.6"/>
<line x1="484.9" y1="2695.6" x2="484.9" y2="2701" stroke="#333" stroke-width="2.6"/>
<line x1="521" y1="2695.6" x2="521" y2="2706.5" stroke="#141414" stroke-width="2.4"/>
<line x1="557.1" y1="2695.6" x2="557.1" y2="2701" stroke="#333" stroke-width="2.6"/>
<line x1="593.3" y1="2695.6" x2="593.3" y2="2701" stroke="#333" stroke-width="2.6"/>
<line x1="629.4" y1="2695.6" x2="629.4" y2="2701" stroke="#333" stroke-width="2.6"/>
<line x1="665.6" y1="2695.6" x2="665.6" y2="2701" stroke="#333" stroke-width="2.6"/>
<line x1="701.7" y1="2695.6" x2="701.7" y2="2706.5" stroke="#141414" stroke-width="2.4"/>
<line x1="737.8" y1="2695.6" x2="737.8" y2="2701" stroke="#333" stroke-width="2.6"/>
<line x1="774" y1="2695.6" x2="774" y2="2701" stroke="#333" stroke-width="2.6"/>
<line x1="810.1" y1="2695.6" x2="810.1" y2="2701" stroke="#333" stroke-width="2.6"/>
<line x1="846.3" y1="2695.6" x2="846.3" y2="2701" stroke="#333" stroke-width="2.6"/>
<line x1="882.4" y1="2695.6" x2="882.4" y2="2706.5" stroke="#141414" stroke-width="2.4"/>
<line x1="918.5" y1="2695.6" x2="918.5" y2="2701" stroke="#333" stroke-width="2.6"/>
<line x1="954.7" y1="2695.6" x2="954.7" y2="2701" stroke="#333" stroke-width="2.6"/>
<line x1="990.8" y1="2695.6" x2="990.8" y2="2701" stroke="#333" stroke-width="2.6"/>
<line x1="1027" y1="2695.6" x2="1027" y2="2701" stroke="#333" stroke-width="2.6"/>
<line x1="1063.1" y1="2695.6" x2="1063.1" y2="2706.5" stroke="#141414" stroke-width="2.4"/>
<line x1="1099.2" y1="2695.6" x2="1099.2" y2="2701" stroke="#333" stroke-width="2.6"/>
<line x1="1135.4" y1="2695.6" x2="1135.4" y2="2701" stroke="#333" stroke-width="2.6"/>
<text x="341" y="2742.8" font-family="&quot;Liberation Sans&quot;,Arial,sans-serif" font-size="27.5" font-weight="bold" text-anchor="middle" fill="#1c1c1c" textLength="15.3" lengthAdjust="spacingAndGlyphs">5</text>
<text x="519.5" y="2742.5" font-family="&quot;Liberation Sans&quot;,Arial,sans-serif" font-size="27.5" font-weight="bold" text-anchor="middle" fill="#1c1c1c" textLength="30.6" lengthAdjust="spacingAndGlyphs">10</text>
<text x="703.1" y="2742.5" font-family="&quot;Liberation Sans&quot;,Arial,sans-serif" font-size="27.5" font-weight="bold" text-anchor="middle" fill="#1c1c1c" textLength="30.6" lengthAdjust="spacingAndGlyphs">15</text>
<text x="880.3" y="2742.5" font-family="&quot;Liberation Sans&quot;,Arial,sans-serif" font-size="27.5" font-weight="bold" text-anchor="middle" fill="#1c1c1c" textLength="30.6" lengthAdjust="spacingAndGlyphs">20</text>
<text x="1062.6" y="2737" font-family="&quot;Liberation Sans&quot;,Arial,sans-serif" font-size="27.5" font-weight="bold" text-anchor="middle" fill="#1c1c1c" textLength="30.6" lengthAdjust="spacingAndGlyphs">25</text>
<text x="1156.9" y="2737" font-family="&quot;Liberation Sans&quot;,Arial,sans-serif" font-size="29" font-weight="bold" text-anchor="end" fill="#1c1c1c" textLength="51.8" lengthAdjust="spacingAndGlyphs">min</text>
<text x="150.8" y="2178" font-family="&quot;Liberation Sans&quot;,Arial,sans-serif" font-size="29" font-weight="bold" text-anchor="end" fill="#1c1c1c" textLength="69.5" lengthAdjust="spacingAndGlyphs">mAU</text>
<text x="240" y="2200" font-family="&quot;Liberation Serif&quot;,&quot;Times New Roman&quot;,serif" font-size="80" font-weight="bold" text-anchor="start" fill="#000">G</text>
<path d="M166 2674.3 C284 2674.3 402 2674.3 520 2674.3 C526.7 2674.3 533.3 2674.2 540 2674 C542.3 2673.9 544.7 2672.8 547 2671 C548 2670.2 549.1 2668.6 550.1 2665 C551 2661.7 552 2637.1 552.9 2617.4 C553.9 2595.6 555 2559.2 556 2530 C557.2 2495.1 558.5 2469.9 559.7 2425 C560.6 2391 561.6 2318.8 562.5 2287.5 C563.4 2257.4 564.3 2227.5 565.2 2218.7 C565.9 2211.5 566.7 2205 567.4 2205 C568.3 2205 569.1 2213.8 570 2222 C571.2 2233 572.3 2259.7 573.5 2287.5 C574.9 2320.1 576.2 2388.7 577.6 2425 C578.6 2450.7 579.5 2471.2 580.5 2490 C581.4 2506.9 582.2 2520 583.1 2535 C584.1 2551.7 585 2571.1 586 2585 C586.9 2597.5 587.7 2610.7 588.6 2617.4 C590.1 2628.8 591.5 2635.5 593 2641 C594.7 2647.6 596.5 2652.8 598.2 2656 C600.5 2660.2 602.7 2663 605 2665 C607.3 2667.1 609.7 2668.9 612 2669.7 C614.7 2670.6 617.3 2671.5 620 2671.5 C622.8 2671.5 625.7 2671.5 628.5 2671.5 C631.3 2671.5 634.2 2668.3 637 2667.5 C639.7 2666.7 642.3 2665.8 645 2665.8 C647.3 2665.8 649.7 2667.5 652 2668.5 C654.2 2669.4 656.5 2670.9 658.7 2671.5 C663.3 2672.7 667.9 2673.6 672.5 2673.8 C681.7 2674.1 690.8 2674.3 700 2674.3 C852 2674.3 1004 2674.3 1156 2674.3" stroke="#8484c4" stroke-width="2" fill="none"/>
<path d="M527 2675 L704 2675" stroke="#e58ad0" stroke-width="2" fill="none"/>
<line x1="628.5" y1="2667" x2="628.5" y2="2681" stroke="#555" stroke-width="1.6"/>
<line x1="527" y1="2669" x2="527" y2="2677" stroke="#777" stroke-width="1.6"/>
<line x1="704" y1="2670" x2="704" y2="2679" stroke="#777" stroke-width="1.6"/>
<line x1="567.4" y1="2210" x2="567.4" y2="2224" stroke="#6a6a90" stroke-width="2"/>
<line x1="562" y1="2216" x2="573" y2="2216" stroke="#6a6a90" stroke-width="1.6"/>
<text x="589.5" y="2194" font-family="&quot;Liberation Sans&quot;,Arial,sans-serif" font-size="29" font-weight="bold" text-anchor="start" fill="#1a1a1a" textLength="27" lengthAdjust="spacingAndGlyphs">D</text>
<text x="571" y="2196" font-family="&quot;Liberation Sans&quot;,Arial,sans-serif" font-size="10" font-weight="normal" text-anchor="start" fill="#666" transform="rotate(-90 571 2196)">11.285</text>
<text x="648" y="2661" font-family="&quot;Liberation Sans&quot;,Arial,sans-serif" font-size="10" font-weight="normal" text-anchor="start" fill="#666" transform="rotate(-90 648 2661)">13.464</text>
</svg></body></html>
